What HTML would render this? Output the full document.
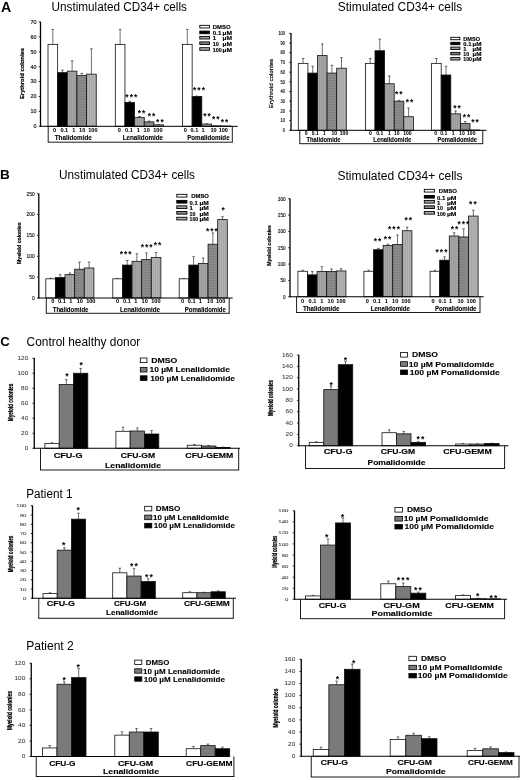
<!DOCTYPE html><html><head><meta charset="utf-8"><title>Figure</title><style>html,body{margin:0;padding:0;background:#fff;}svg{display:block;filter:blur(0.3px);}text{font-family:"Liberation Sans",sans-serif;}</style></head><body>
<svg width="520" height="780" viewBox="0 0 520 780">
<defs><pattern id="g1" width="2" height="2" patternUnits="userSpaceOnUse"><rect width="2" height="2" fill="#9a9a9a"/><rect width="1" height="2" fill="#a6a6a6"/></pattern><pattern id="g10" width="2" height="1.6" patternUnits="userSpaceOnUse"><rect width="2" height="1.6" fill="#8e8e8e"/><rect width="2" height="0.6" fill="#7a7a7a"/></pattern><pattern id="g100" width="2" height="2" patternUnits="userSpaceOnUse"><rect width="2" height="2" fill="#a8a8a8"/><rect width="1" height="2" fill="#b2b2b2"/></pattern></defs>
<rect width="520" height="780" fill="#fff"/>
<text x="0.9" y="11.9" font-size="14.2" font-weight="bold">A</text>
<text x="51.5" y="10.9" font-size="12.3" textLength="135.4" lengthAdjust="spacingAndGlyphs">Unstimulated CD34+ cells</text>
<text x="337.8" y="10.9" font-size="12.3" textLength="124.4" lengthAdjust="spacingAndGlyphs">Stimulated CD34+ cells</text>
<text x="-0.1" y="179.4" font-size="13.6" font-weight="bold">B</text>
<text x="59" y="179.3" font-size="12.3" textLength="136" lengthAdjust="spacingAndGlyphs">Unstimulated CD34+ cells</text>
<text x="337.5" y="180" font-size="12.3" textLength="125" lengthAdjust="spacingAndGlyphs">Stimulated CD34+ cells</text>
<text x="0.2" y="345.5" font-size="13.2" font-weight="bold">C</text>
<text x="26.6" y="345.5" font-size="12.3" textLength="113.6" lengthAdjust="spacingAndGlyphs">Control healthy donor</text>
<text x="26.25" y="497.6" font-size="12.3" textLength="46.25" lengthAdjust="spacingAndGlyphs">Patient 1</text>
<text x="26.25" y="649.8" font-size="12.3" textLength="47.5" lengthAdjust="spacingAndGlyphs">Patient 2</text>
<line x1="52.83" y1="44.35" x2="52.83" y2="29.45" stroke="#333" stroke-width="0.7"/>
<line x1="51.53" y1="29.45" x2="54.12" y2="29.45" stroke="#333" stroke-width="0.7"/>
<rect x="48" y="44.35" width="9.65" height="81.95" fill="#fff" stroke="#111" stroke-width="0.8"/>
<line x1="62.48" y1="72.66" x2="62.48" y2="70.13" stroke="#333" stroke-width="0.7"/>
<line x1="61.18" y1="70.13" x2="63.77" y2="70.13" stroke="#333" stroke-width="0.7"/>
<rect x="57.65" y="72.66" width="9.65" height="53.64" fill="#000" stroke="#111" stroke-width="0.8"/>
<line x1="72.12" y1="71.17" x2="72.12" y2="60.74" stroke="#333" stroke-width="0.7"/>
<line x1="70.83" y1="60.74" x2="73.42" y2="60.74" stroke="#333" stroke-width="0.7"/>
<rect x="67.3" y="71.17" width="9.65" height="55.13" fill="url(#g1)" stroke="#111" stroke-width="0.8"/>
<line x1="81.78" y1="75.64" x2="81.78" y2="73.41" stroke="#333" stroke-width="0.7"/>
<line x1="80.48" y1="73.41" x2="83.08" y2="73.41" stroke="#333" stroke-width="0.7"/>
<rect x="76.95" y="75.64" width="9.65" height="50.66" fill="url(#g10)" stroke="#111" stroke-width="0.8"/>
<line x1="91.42" y1="74.15" x2="91.42" y2="48.82" stroke="#333" stroke-width="0.7"/>
<line x1="90.12" y1="48.82" x2="92.72" y2="48.82" stroke="#333" stroke-width="0.7"/>
<rect x="86.6" y="74.15" width="9.65" height="52.15" fill="url(#g100)" stroke="#111" stroke-width="0.8"/>
<line x1="120.12" y1="44.35" x2="120.12" y2="29.45" stroke="#333" stroke-width="0.7"/>
<line x1="118.83" y1="29.45" x2="121.42" y2="29.45" stroke="#333" stroke-width="0.7"/>
<rect x="115.3" y="44.35" width="9.65" height="81.95" fill="#fff" stroke="#111" stroke-width="0.8"/>
<line x1="129.78" y1="102.46" x2="129.78" y2="101.42" stroke="#333" stroke-width="0.7"/>
<line x1="128.47" y1="101.42" x2="131.08" y2="101.42" stroke="#333" stroke-width="0.7"/>
<rect x="124.95" y="102.46" width="9.65" height="23.84" fill="#000" stroke="#111" stroke-width="0.8"/>
<line x1="139.42" y1="117.36" x2="139.42" y2="116.47" stroke="#333" stroke-width="0.7"/>
<line x1="138.12" y1="116.47" x2="140.72" y2="116.47" stroke="#333" stroke-width="0.7"/>
<rect x="134.6" y="117.36" width="9.65" height="8.94" fill="url(#g1)" stroke="#111" stroke-width="0.8"/>
<line x1="149.07" y1="121.83" x2="149.07" y2="121.08" stroke="#333" stroke-width="0.7"/>
<line x1="147.77" y1="121.08" x2="150.38" y2="121.08" stroke="#333" stroke-width="0.7"/>
<rect x="144.25" y="121.83" width="9.65" height="4.47" fill="url(#g10)" stroke="#111" stroke-width="0.8"/>
<line x1="158.72" y1="124.81" x2="158.72" y2="124.51" stroke="#333" stroke-width="0.7"/>
<line x1="157.42" y1="124.51" x2="160.03" y2="124.51" stroke="#333" stroke-width="0.7"/>
<rect x="153.9" y="124.81" width="9.65" height="1.49" fill="url(#g100)" stroke="#111" stroke-width="0.8"/>
<line x1="187.32" y1="44.35" x2="187.32" y2="29.45" stroke="#333" stroke-width="0.7"/>
<line x1="186.02" y1="29.45" x2="188.62" y2="29.45" stroke="#333" stroke-width="0.7"/>
<rect x="182.5" y="44.35" width="9.65" height="81.95" fill="#fff" stroke="#111" stroke-width="0.8"/>
<line x1="196.97" y1="96.5" x2="196.97" y2="96.05" stroke="#333" stroke-width="0.7"/>
<line x1="195.67" y1="96.05" x2="198.28" y2="96.05" stroke="#333" stroke-width="0.7"/>
<rect x="192.15" y="96.5" width="9.65" height="29.8" fill="#000" stroke="#111" stroke-width="0.8"/>
<line x1="206.62" y1="124.06" x2="206.62" y2="123.77" stroke="#333" stroke-width="0.7"/>
<line x1="205.32" y1="123.77" x2="207.93" y2="123.77" stroke="#333" stroke-width="0.7"/>
<rect x="201.8" y="124.06" width="9.65" height="2.23" fill="url(#g1)" stroke="#111" stroke-width="0.8"/>
<rect x="211.45" y="125.85" width="9.65" height="0.45" fill="url(#g10)" stroke="#111" stroke-width="0.8"/>
<rect x="221.1" y="126" width="9.65" height="0.3" fill="url(#g100)" stroke="#111" stroke-width="0.8"/>
<line x1="40.5" y1="21.7" x2="40.5" y2="126.7" stroke="#000" stroke-width="1.3"/>
<line x1="40" y1="126.3" x2="237.7" y2="126.3" stroke="#000" stroke-width="1"/>
<line x1="38.7" y1="126.3" x2="40.5" y2="126.3" stroke="#000" stroke-width="0.8"/>
<text x="36.5" y="128.17" font-size="5.2" stroke="#111" stroke-width="0.15" text-anchor="end" textLength="3" lengthAdjust="spacingAndGlyphs" fill="#111">0</text>
<line x1="38.7" y1="111.4" x2="40.5" y2="111.4" stroke="#000" stroke-width="0.8"/>
<text x="36.5" y="113.27" font-size="5.2" stroke="#111" stroke-width="0.15" text-anchor="end" textLength="6" lengthAdjust="spacingAndGlyphs" fill="#111">10</text>
<line x1="38.7" y1="96.5" x2="40.5" y2="96.5" stroke="#000" stroke-width="0.8"/>
<text x="36.5" y="98.37" font-size="5.2" stroke="#111" stroke-width="0.15" text-anchor="end" textLength="6" lengthAdjust="spacingAndGlyphs" fill="#111">20</text>
<line x1="38.7" y1="81.6" x2="40.5" y2="81.6" stroke="#000" stroke-width="0.8"/>
<text x="36.5" y="83.47" font-size="5.2" stroke="#111" stroke-width="0.15" text-anchor="end" textLength="6" lengthAdjust="spacingAndGlyphs" fill="#111">30</text>
<line x1="38.7" y1="66.7" x2="40.5" y2="66.7" stroke="#000" stroke-width="0.8"/>
<text x="36.5" y="68.57" font-size="5.2" stroke="#111" stroke-width="0.15" text-anchor="end" textLength="6" lengthAdjust="spacingAndGlyphs" fill="#111">40</text>
<line x1="38.7" y1="51.8" x2="40.5" y2="51.8" stroke="#000" stroke-width="0.8"/>
<text x="36.5" y="53.67" font-size="5.2" stroke="#111" stroke-width="0.15" text-anchor="end" textLength="6" lengthAdjust="spacingAndGlyphs" fill="#111">50</text>
<line x1="38.7" y1="36.9" x2="40.5" y2="36.9" stroke="#000" stroke-width="0.8"/>
<text x="36.5" y="38.77" font-size="5.2" stroke="#111" stroke-width="0.15" text-anchor="end" textLength="6" lengthAdjust="spacingAndGlyphs" fill="#111">60</text>
<line x1="38.7" y1="22" x2="40.5" y2="22" stroke="#000" stroke-width="0.8"/>
<text x="36.5" y="23.87" font-size="5.2" stroke="#111" stroke-width="0.15" text-anchor="end" textLength="6" lengthAdjust="spacingAndGlyphs" fill="#111">70</text>
<text x="24" y="73.5" font-size="5.8" stroke="#000" stroke-width="0.2" font-weight="bold" text-anchor="middle" textLength="51" lengthAdjust="spacingAndGlyphs" transform="rotate(-90 24 73.5)">Erythroid colonies</text>
<line x1="48.2" y1="126.3" x2="48.2" y2="142.2" stroke="#000" stroke-width="0.9"/>
<line x1="47.8" y1="142.2" x2="232.7" y2="142.2" stroke="#000" stroke-width="0.9"/>
<line x1="232.3" y1="126.3" x2="232.3" y2="142.2" stroke="#000" stroke-width="0.9"/>
<text x="54.5" y="131.9" font-size="5.6" stroke="#000" stroke-width="0.05" font-weight="bold" text-anchor="middle">0</text>
<text x="64.3" y="131.9" font-size="5.6" stroke="#000" stroke-width="0.05" font-weight="bold" text-anchor="middle">0.1</text>
<text x="73.8" y="131.9" font-size="5.6" stroke="#000" stroke-width="0.05" font-weight="bold" text-anchor="middle">1</text>
<text x="82.2" y="131.9" font-size="5.6" stroke="#000" stroke-width="0.05" font-weight="bold" text-anchor="middle">10</text>
<text x="92.9" y="131.9" font-size="5.6" stroke="#000" stroke-width="0.05" font-weight="bold" text-anchor="middle">100</text>
<text x="119.2" y="131.9" font-size="5.6" stroke="#000" stroke-width="0.05" font-weight="bold" text-anchor="middle">0</text>
<text x="129" y="131.9" font-size="5.6" stroke="#000" stroke-width="0.05" font-weight="bold" text-anchor="middle">0.1</text>
<text x="138.3" y="131.9" font-size="5.6" stroke="#000" stroke-width="0.05" font-weight="bold" text-anchor="middle">1</text>
<text x="146.7" y="131.9" font-size="5.6" stroke="#000" stroke-width="0.05" font-weight="bold" text-anchor="middle">10</text>
<text x="157.9" y="131.9" font-size="5.6" stroke="#000" stroke-width="0.05" font-weight="bold" text-anchor="middle">100</text>
<text x="185.2" y="131.9" font-size="5.6" stroke="#000" stroke-width="0.05" font-weight="bold" text-anchor="middle">0</text>
<text x="194.4" y="131.9" font-size="5.6" stroke="#000" stroke-width="0.05" font-weight="bold" text-anchor="middle">0.1</text>
<text x="203" y="131.9" font-size="5.6" stroke="#000" stroke-width="0.05" font-weight="bold" text-anchor="middle">1</text>
<text x="213.5" y="131.9" font-size="5.6" stroke="#000" stroke-width="0.05" font-weight="bold" text-anchor="middle">10</text>
<text x="223.3" y="131.9" font-size="5.6" stroke="#000" stroke-width="0.05" font-weight="bold" text-anchor="middle">100</text>
<text x="73.25" y="139.9" font-size="7" stroke="#000" stroke-width="0.12" font-weight="bold" text-anchor="middle" textLength="36.9" lengthAdjust="spacingAndGlyphs">Thalidomide</text>
<text x="142.9" y="139.9" font-size="7" stroke="#000" stroke-width="0.12" font-weight="bold" text-anchor="middle" textLength="40.4" lengthAdjust="spacingAndGlyphs">Lenalidomide</text>
<text x="208.4" y="139.9" font-size="7" stroke="#000" stroke-width="0.12" font-weight="bold" text-anchor="middle" textLength="42.4" lengthAdjust="spacingAndGlyphs">Pomalidomide</text>
<text x="127" y="100.2" font-size="8.4" font-weight="bold" text-anchor="middle">*</text>
<text x="131.3" y="100.2" font-size="8.4" font-weight="bold" text-anchor="middle">*</text>
<text x="135.6" y="100.2" font-size="8.4" font-weight="bold" text-anchor="middle">*</text>
<text x="139.45" y="116" font-size="8.4" font-weight="bold" text-anchor="middle">*</text>
<text x="143.75" y="116" font-size="8.4" font-weight="bold" text-anchor="middle">*</text>
<text x="149.35" y="119.4" font-size="8.4" font-weight="bold" text-anchor="middle">*</text>
<text x="153.65" y="119.4" font-size="8.4" font-weight="bold" text-anchor="middle">*</text>
<text x="157.75" y="125" font-size="8.4" font-weight="bold" text-anchor="middle">*</text>
<text x="162.05" y="125" font-size="8.4" font-weight="bold" text-anchor="middle">*</text>
<text x="194.7" y="93.45" font-size="8.4" font-weight="bold" text-anchor="middle">*</text>
<text x="199" y="93.45" font-size="8.4" font-weight="bold" text-anchor="middle">*</text>
<text x="203.3" y="93.45" font-size="8.4" font-weight="bold" text-anchor="middle">*</text>
<text x="204.85" y="119.2" font-size="8.4" font-weight="bold" text-anchor="middle">*</text>
<text x="209.15" y="119.2" font-size="8.4" font-weight="bold" text-anchor="middle">*</text>
<text x="213.6" y="121.7" font-size="8.4" font-weight="bold" text-anchor="middle">*</text>
<text x="217.9" y="121.7" font-size="8.4" font-weight="bold" text-anchor="middle">*</text>
<text x="222.45" y="124.95" font-size="8.4" font-weight="bold" text-anchor="middle">*</text>
<text x="226.75" y="124.95" font-size="8.4" font-weight="bold" text-anchor="middle">*</text>
<rect x="199.8" y="25.35" width="9.6" height="2.6" fill="#fff" stroke="#000" stroke-width="0.9"/>
<text x="212.8" y="29.39" font-size="6.1" stroke="#000" stroke-width="0.15" font-weight="bold" textLength="17.8" lengthAdjust="spacingAndGlyphs">DMSO</text>
<rect x="199.8" y="31.1" width="9.6" height="2.6" fill="#000" stroke="#000" stroke-width="0.9"/>
<text x="212.8" y="35.14" font-size="6.1" stroke="#000" stroke-width="0.15" font-weight="bold" textLength="8.48" lengthAdjust="spacingAndGlyphs">0.1</text>
<text x="222.6" y="35.14" font-size="6.1" stroke="#000" stroke-width="0.15" font-weight="bold" textLength="9.4" lengthAdjust="spacingAndGlyphs">µM</text>
<rect x="199.8" y="36.4" width="9.6" height="2.6" fill="url(#g1)" stroke="#000" stroke-width="0.9"/>
<text x="212.8" y="40.45" font-size="6.1" stroke="#000" stroke-width="0.15" font-weight="bold">1</text>
<text x="222.6" y="40.45" font-size="6.1" stroke="#000" stroke-width="0.15" font-weight="bold" textLength="9.4" lengthAdjust="spacingAndGlyphs">µM</text>
<rect x="199.8" y="41.9" width="9.6" height="2.6" fill="url(#g10)" stroke="#000" stroke-width="0.9"/>
<text x="212.8" y="45.95" font-size="6.1" stroke="#000" stroke-width="0.15" font-weight="bold" textLength="6.1" lengthAdjust="spacingAndGlyphs">10</text>
<text x="222.6" y="45.95" font-size="6.1" stroke="#000" stroke-width="0.15" font-weight="bold" textLength="9.4" lengthAdjust="spacingAndGlyphs">µM</text>
<rect x="199.8" y="47.7" width="9.6" height="2.6" fill="url(#g100)" stroke="#000" stroke-width="0.9"/>
<text x="212.8" y="51.74" font-size="6.1" stroke="#000" stroke-width="0.15" font-weight="bold" textLength="9" lengthAdjust="spacingAndGlyphs">100</text>
<text x="222.6" y="51.74" font-size="6.1" stroke="#000" stroke-width="0.15" font-weight="bold" textLength="9.4" lengthAdjust="spacingAndGlyphs">µM</text>
<line x1="303.1" y1="63.37" x2="303.1" y2="58.52" stroke="#333" stroke-width="0.7"/>
<line x1="301.8" y1="58.52" x2="304.4" y2="58.52" stroke="#333" stroke-width="0.7"/>
<rect x="298.3" y="63.37" width="9.6" height="66.93" fill="#fff" stroke="#111" stroke-width="0.8"/>
<line x1="312.7" y1="73.07" x2="312.7" y2="66.28" stroke="#333" stroke-width="0.7"/>
<line x1="311.4" y1="66.28" x2="314" y2="66.28" stroke="#333" stroke-width="0.7"/>
<rect x="307.9" y="73.07" width="9.6" height="57.23" fill="#000" stroke="#111" stroke-width="0.8"/>
<line x1="322.3" y1="55.61" x2="322.3" y2="43.97" stroke="#333" stroke-width="0.7"/>
<line x1="321" y1="43.97" x2="323.6" y2="43.97" stroke="#333" stroke-width="0.7"/>
<rect x="317.5" y="55.61" width="9.6" height="74.69" fill="url(#g1)" stroke="#111" stroke-width="0.8"/>
<line x1="331.9" y1="73.07" x2="331.9" y2="65.31" stroke="#333" stroke-width="0.7"/>
<line x1="330.6" y1="65.31" x2="333.2" y2="65.31" stroke="#333" stroke-width="0.7"/>
<rect x="327.1" y="73.07" width="9.6" height="57.23" fill="url(#g10)" stroke="#111" stroke-width="0.8"/>
<line x1="341.5" y1="68.22" x2="341.5" y2="57.55" stroke="#333" stroke-width="0.7"/>
<line x1="340.2" y1="57.55" x2="342.8" y2="57.55" stroke="#333" stroke-width="0.7"/>
<rect x="336.7" y="68.22" width="9.6" height="62.08" fill="url(#g100)" stroke="#111" stroke-width="0.8"/>
<line x1="370.2" y1="63.37" x2="370.2" y2="58.52" stroke="#333" stroke-width="0.7"/>
<line x1="368.9" y1="58.52" x2="371.5" y2="58.52" stroke="#333" stroke-width="0.7"/>
<rect x="365.4" y="63.37" width="9.6" height="66.93" fill="#fff" stroke="#111" stroke-width="0.8"/>
<line x1="379.8" y1="50.76" x2="379.8" y2="39.12" stroke="#333" stroke-width="0.7"/>
<line x1="378.5" y1="39.12" x2="381.1" y2="39.12" stroke="#333" stroke-width="0.7"/>
<rect x="375" y="50.76" width="9.6" height="79.54" fill="#000" stroke="#111" stroke-width="0.8"/>
<line x1="389.4" y1="83.74" x2="389.4" y2="75.98" stroke="#333" stroke-width="0.7"/>
<line x1="388.1" y1="75.98" x2="390.7" y2="75.98" stroke="#333" stroke-width="0.7"/>
<rect x="384.6" y="83.74" width="9.6" height="46.56" fill="url(#g1)" stroke="#111" stroke-width="0.8"/>
<line x1="399" y1="101.2" x2="399" y2="100.23" stroke="#333" stroke-width="0.7"/>
<line x1="397.7" y1="100.23" x2="400.3" y2="100.23" stroke="#333" stroke-width="0.7"/>
<rect x="394.2" y="101.2" width="9.6" height="29.1" fill="url(#g10)" stroke="#111" stroke-width="0.8"/>
<line x1="408.6" y1="116.72" x2="408.6" y2="107.99" stroke="#333" stroke-width="0.7"/>
<line x1="407.3" y1="107.99" x2="409.9" y2="107.99" stroke="#333" stroke-width="0.7"/>
<rect x="403.8" y="116.72" width="9.6" height="13.58" fill="url(#g100)" stroke="#111" stroke-width="0.8"/>
<line x1="436.4" y1="63.37" x2="436.4" y2="58.52" stroke="#333" stroke-width="0.7"/>
<line x1="435.1" y1="58.52" x2="437.7" y2="58.52" stroke="#333" stroke-width="0.7"/>
<rect x="431.6" y="63.37" width="9.6" height="66.93" fill="#fff" stroke="#111" stroke-width="0.8"/>
<line x1="446" y1="75.01" x2="446" y2="66.28" stroke="#333" stroke-width="0.7"/>
<line x1="444.7" y1="66.28" x2="447.3" y2="66.28" stroke="#333" stroke-width="0.7"/>
<rect x="441.2" y="75.01" width="9.6" height="55.29" fill="#000" stroke="#111" stroke-width="0.8"/>
<line x1="455.6" y1="113.81" x2="455.6" y2="110.9" stroke="#333" stroke-width="0.7"/>
<line x1="454.3" y1="110.9" x2="456.9" y2="110.9" stroke="#333" stroke-width="0.7"/>
<rect x="450.8" y="113.81" width="9.6" height="16.49" fill="url(#g1)" stroke="#111" stroke-width="0.8"/>
<line x1="465.2" y1="123.51" x2="465.2" y2="121.57" stroke="#333" stroke-width="0.7"/>
<line x1="463.9" y1="121.57" x2="466.5" y2="121.57" stroke="#333" stroke-width="0.7"/>
<rect x="460.4" y="123.51" width="9.6" height="6.79" fill="url(#g10)" stroke="#111" stroke-width="0.8"/>
<rect x="470" y="130.01" width="9.6" height="0.29" fill="url(#g100)" stroke="#111" stroke-width="0.8"/>
<line x1="291" y1="33" x2="291" y2="130.7" stroke="#000" stroke-width="1.3"/>
<line x1="290.5" y1="130.3" x2="486.5" y2="130.3" stroke="#000" stroke-width="1"/>
<line x1="289.2" y1="130.3" x2="291" y2="130.3" stroke="#000" stroke-width="0.8"/>
<text x="285" y="132.03" font-size="4.8" stroke="#111" stroke-width="0.15" text-anchor="end" textLength="2.2" lengthAdjust="spacingAndGlyphs" fill="#111">0</text>
<line x1="289.2" y1="120.6" x2="291" y2="120.6" stroke="#000" stroke-width="0.8"/>
<text x="285" y="122.33" font-size="4.8" stroke="#111" stroke-width="0.15" text-anchor="end" textLength="4.4" lengthAdjust="spacingAndGlyphs" fill="#111">10</text>
<line x1="289.2" y1="110.9" x2="291" y2="110.9" stroke="#000" stroke-width="0.8"/>
<text x="285" y="112.63" font-size="4.8" stroke="#111" stroke-width="0.15" text-anchor="end" textLength="4.4" lengthAdjust="spacingAndGlyphs" fill="#111">20</text>
<line x1="289.2" y1="101.2" x2="291" y2="101.2" stroke="#000" stroke-width="0.8"/>
<text x="285" y="102.93" font-size="4.8" stroke="#111" stroke-width="0.15" text-anchor="end" textLength="4.4" lengthAdjust="spacingAndGlyphs" fill="#111">30</text>
<line x1="289.2" y1="91.5" x2="291" y2="91.5" stroke="#000" stroke-width="0.8"/>
<text x="285" y="93.23" font-size="4.8" stroke="#111" stroke-width="0.15" text-anchor="end" textLength="4.4" lengthAdjust="spacingAndGlyphs" fill="#111">40</text>
<line x1="289.2" y1="81.8" x2="291" y2="81.8" stroke="#000" stroke-width="0.8"/>
<text x="285" y="83.53" font-size="4.8" stroke="#111" stroke-width="0.15" text-anchor="end" textLength="4.4" lengthAdjust="spacingAndGlyphs" fill="#111">50</text>
<line x1="289.2" y1="72.1" x2="291" y2="72.1" stroke="#000" stroke-width="0.8"/>
<text x="285" y="73.83" font-size="4.8" stroke="#111" stroke-width="0.15" text-anchor="end" textLength="4.4" lengthAdjust="spacingAndGlyphs" fill="#111">60</text>
<line x1="289.2" y1="62.4" x2="291" y2="62.4" stroke="#000" stroke-width="0.8"/>
<text x="285" y="64.13" font-size="4.8" stroke="#111" stroke-width="0.15" text-anchor="end" textLength="4.4" lengthAdjust="spacingAndGlyphs" fill="#111">70</text>
<line x1="289.2" y1="52.7" x2="291" y2="52.7" stroke="#000" stroke-width="0.8"/>
<text x="285" y="54.43" font-size="4.8" stroke="#111" stroke-width="0.15" text-anchor="end" textLength="4.4" lengthAdjust="spacingAndGlyphs" fill="#111">80</text>
<line x1="289.2" y1="43" x2="291" y2="43" stroke="#000" stroke-width="0.8"/>
<text x="285" y="44.73" font-size="4.8" stroke="#111" stroke-width="0.15" text-anchor="end" textLength="4.4" lengthAdjust="spacingAndGlyphs" fill="#111">90</text>
<line x1="289.2" y1="33.3" x2="291" y2="33.3" stroke="#000" stroke-width="0.8"/>
<text x="285" y="35.03" font-size="4.8" stroke="#111" stroke-width="0.15" text-anchor="end" textLength="6.6" lengthAdjust="spacingAndGlyphs" fill="#111">100</text>
<text x="272.6" y="83.5" font-size="6.2" stroke="#000" stroke-width="0.2" text-anchor="middle" textLength="49.4" lengthAdjust="spacingAndGlyphs" transform="rotate(-90 272.6 83.5)">Erythroid colonies</text>
<line x1="299.8" y1="130.3" x2="299.8" y2="143.7" stroke="#000" stroke-width="0.9"/>
<line x1="299.4" y1="143.7" x2="483.15" y2="143.7" stroke="#000" stroke-width="0.9"/>
<line x1="482.75" y1="130.3" x2="482.75" y2="143.7" stroke="#000" stroke-width="0.9"/>
<text x="306.2" y="134.8" font-size="5" stroke="#000" stroke-width="0.05" font-weight="bold" text-anchor="middle">0</text>
<text x="315.2" y="134.8" font-size="5" stroke="#000" stroke-width="0.05" font-weight="bold" text-anchor="middle">0.1</text>
<text x="324.4" y="134.8" font-size="5" stroke="#000" stroke-width="0.05" font-weight="bold" text-anchor="middle">1</text>
<text x="334.2" y="134.8" font-size="5" stroke="#000" stroke-width="0.05" font-weight="bold" text-anchor="middle">10</text>
<text x="344" y="134.8" font-size="5" stroke="#000" stroke-width="0.05" font-weight="bold" text-anchor="middle">100</text>
<text x="370.4" y="134.8" font-size="5" stroke="#000" stroke-width="0.05" font-weight="bold" text-anchor="middle">0</text>
<text x="379.8" y="134.8" font-size="5" stroke="#000" stroke-width="0.05" font-weight="bold" text-anchor="middle">0.1</text>
<text x="389.4" y="134.8" font-size="5" stroke="#000" stroke-width="0.05" font-weight="bold" text-anchor="middle">1</text>
<text x="396.7" y="134.8" font-size="5" stroke="#000" stroke-width="0.05" font-weight="bold" text-anchor="middle">10</text>
<text x="407.3" y="134.8" font-size="5" stroke="#000" stroke-width="0.05" font-weight="bold" text-anchor="middle">100</text>
<text x="435.6" y="134.8" font-size="5" stroke="#000" stroke-width="0.05" font-weight="bold" text-anchor="middle">0</text>
<text x="443.75" y="134.8" font-size="5" stroke="#000" stroke-width="0.05" font-weight="bold" text-anchor="middle">0.1</text>
<text x="453.1" y="134.8" font-size="5" stroke="#000" stroke-width="0.05" font-weight="bold" text-anchor="middle">1</text>
<text x="461.9" y="134.8" font-size="5" stroke="#000" stroke-width="0.05" font-weight="bold" text-anchor="middle">10</text>
<text x="471.25" y="134.8" font-size="5" stroke="#000" stroke-width="0.05" font-weight="bold" text-anchor="middle">100</text>
<text x="323.55" y="141.8" font-size="7" stroke="#000" stroke-width="0.12" font-weight="bold" text-anchor="middle" textLength="34.1" lengthAdjust="spacingAndGlyphs">Thalidomide</text>
<text x="392.3" y="141.8" font-size="7" stroke="#000" stroke-width="0.12" font-weight="bold" text-anchor="middle" textLength="38" lengthAdjust="spacingAndGlyphs">Lenalidomide</text>
<text x="457.2" y="141.8" font-size="7" stroke="#000" stroke-width="0.12" font-weight="bold" text-anchor="middle" textLength="39.4" lengthAdjust="spacingAndGlyphs">Pomalidomide</text>
<text x="396.55" y="97.2" font-size="8.4" font-weight="bold" text-anchor="middle">*</text>
<text x="400.85" y="97.2" font-size="8.4" font-weight="bold" text-anchor="middle">*</text>
<text x="407.35" y="104.7" font-size="8.4" font-weight="bold" text-anchor="middle">*</text>
<text x="411.65" y="104.7" font-size="8.4" font-weight="bold" text-anchor="middle">*</text>
<text x="454.95" y="111.2" font-size="8.4" font-weight="bold" text-anchor="middle">*</text>
<text x="459.25" y="111.2" font-size="8.4" font-weight="bold" text-anchor="middle">*</text>
<text x="464.35" y="119.95" font-size="8.4" font-weight="bold" text-anchor="middle">*</text>
<text x="468.65" y="119.95" font-size="8.4" font-weight="bold" text-anchor="middle">*</text>
<text x="472.85" y="125.45" font-size="8.4" font-weight="bold" text-anchor="middle">*</text>
<text x="477.15" y="125.45" font-size="8.4" font-weight="bold" text-anchor="middle">*</text>
<rect x="450.8" y="37.3" width="9.1" height="2.4" fill="#fff" stroke="#000" stroke-width="0.9"/>
<text x="463.3" y="41.16" font-size="5.9" stroke="#000" stroke-width="0.15" font-weight="bold" textLength="16.8" lengthAdjust="spacingAndGlyphs">DMSO</text>
<rect x="450.8" y="42.3" width="9.1" height="2.4" fill="#000" stroke="#000" stroke-width="0.9"/>
<text x="463.3" y="46.16" font-size="5.9" stroke="#000" stroke-width="0.15" font-weight="bold" textLength="8.2" lengthAdjust="spacingAndGlyphs">0.1</text>
<text x="472.6" y="46.16" font-size="5.9" stroke="#000" stroke-width="0.15" font-weight="bold" textLength="8.9" lengthAdjust="spacingAndGlyphs">µM</text>
<rect x="450.8" y="47.1" width="9.1" height="2.4" fill="url(#g1)" stroke="#000" stroke-width="0.9"/>
<text x="463.3" y="50.95" font-size="5.9" stroke="#000" stroke-width="0.15" font-weight="bold">1</text>
<text x="472.6" y="50.95" font-size="5.9" stroke="#000" stroke-width="0.15" font-weight="bold" textLength="8.9" lengthAdjust="spacingAndGlyphs">µM</text>
<rect x="450.8" y="52.4" width="9.1" height="2.4" fill="url(#g10)" stroke="#000" stroke-width="0.9"/>
<text x="463.3" y="56.26" font-size="5.9" stroke="#000" stroke-width="0.15" font-weight="bold" textLength="5.9" lengthAdjust="spacingAndGlyphs">10</text>
<text x="472.6" y="56.26" font-size="5.9" stroke="#000" stroke-width="0.15" font-weight="bold" textLength="8.9" lengthAdjust="spacingAndGlyphs">µM</text>
<rect x="450.8" y="57.6" width="9.1" height="2.4" fill="url(#g100)" stroke="#000" stroke-width="0.9"/>
<text x="463.3" y="61.45" font-size="5.9" stroke="#000" stroke-width="0.15" font-weight="bold" textLength="8.7" lengthAdjust="spacingAndGlyphs">100</text>
<text x="472.6" y="61.45" font-size="5.9" stroke="#000" stroke-width="0.15" font-weight="bold" textLength="8.9" lengthAdjust="spacingAndGlyphs">µM</text>
<line x1="50.61" y1="278.82" x2="50.61" y2="278.19" stroke="#333" stroke-width="0.7"/>
<line x1="49.31" y1="278.19" x2="51.91" y2="278.19" stroke="#333" stroke-width="0.7"/>
<rect x="45.8" y="278.82" width="9.62" height="19.18" fill="#fff" stroke="#111" stroke-width="0.8"/>
<line x1="60.23" y1="277.57" x2="60.23" y2="274.65" stroke="#333" stroke-width="0.7"/>
<line x1="58.93" y1="274.65" x2="61.53" y2="274.65" stroke="#333" stroke-width="0.7"/>
<rect x="55.42" y="277.57" width="9.62" height="20.43" fill="#000" stroke="#111" stroke-width="0.8"/>
<line x1="69.85" y1="274.65" x2="69.85" y2="272.98" stroke="#333" stroke-width="0.7"/>
<line x1="68.55" y1="272.98" x2="71.15" y2="272.98" stroke="#333" stroke-width="0.7"/>
<rect x="65.04" y="274.65" width="9.62" height="23.35" fill="url(#g1)" stroke="#111" stroke-width="0.8"/>
<line x1="79.47" y1="269.23" x2="79.47" y2="262.14" stroke="#333" stroke-width="0.7"/>
<line x1="78.17" y1="262.14" x2="80.77" y2="262.14" stroke="#333" stroke-width="0.7"/>
<rect x="74.66" y="269.23" width="9.62" height="28.77" fill="url(#g10)" stroke="#111" stroke-width="0.8"/>
<line x1="89.09" y1="267.98" x2="89.09" y2="262.14" stroke="#333" stroke-width="0.7"/>
<line x1="87.79" y1="262.14" x2="90.39" y2="262.14" stroke="#333" stroke-width="0.7"/>
<rect x="84.28" y="267.98" width="9.62" height="30.02" fill="url(#g100)" stroke="#111" stroke-width="0.8"/>
<line x1="117.61" y1="278.82" x2="117.61" y2="278.4" stroke="#333" stroke-width="0.7"/>
<line x1="116.31" y1="278.4" x2="118.91" y2="278.4" stroke="#333" stroke-width="0.7"/>
<rect x="112.8" y="278.82" width="9.62" height="19.18" fill="#fff" stroke="#111" stroke-width="0.8"/>
<line x1="127.23" y1="265.06" x2="127.23" y2="260.47" stroke="#333" stroke-width="0.7"/>
<line x1="125.93" y1="260.47" x2="128.53" y2="260.47" stroke="#333" stroke-width="0.7"/>
<rect x="122.42" y="265.06" width="9.62" height="32.94" fill="#000" stroke="#111" stroke-width="0.8"/>
<line x1="136.85" y1="261.3" x2="136.85" y2="253.8" stroke="#333" stroke-width="0.7"/>
<line x1="135.55" y1="253.8" x2="138.15" y2="253.8" stroke="#333" stroke-width="0.7"/>
<rect x="132.04" y="261.3" width="9.62" height="36.7" fill="url(#g1)" stroke="#111" stroke-width="0.8"/>
<line x1="146.47" y1="259.64" x2="146.47" y2="252.96" stroke="#333" stroke-width="0.7"/>
<line x1="145.17" y1="252.96" x2="147.77" y2="252.96" stroke="#333" stroke-width="0.7"/>
<rect x="141.66" y="259.64" width="9.62" height="38.36" fill="url(#g10)" stroke="#111" stroke-width="0.8"/>
<line x1="156.09" y1="257.55" x2="156.09" y2="252.55" stroke="#333" stroke-width="0.7"/>
<line x1="154.79" y1="252.55" x2="157.39" y2="252.55" stroke="#333" stroke-width="0.7"/>
<rect x="151.28" y="257.55" width="9.62" height="40.45" fill="url(#g100)" stroke="#111" stroke-width="0.8"/>
<line x1="184.01" y1="278.82" x2="184.01" y2="278.4" stroke="#333" stroke-width="0.7"/>
<line x1="182.71" y1="278.4" x2="185.31" y2="278.4" stroke="#333" stroke-width="0.7"/>
<rect x="179.2" y="278.82" width="9.62" height="19.18" fill="#fff" stroke="#111" stroke-width="0.8"/>
<line x1="193.63" y1="265.06" x2="193.63" y2="256.72" stroke="#333" stroke-width="0.7"/>
<line x1="192.33" y1="256.72" x2="194.93" y2="256.72" stroke="#333" stroke-width="0.7"/>
<rect x="188.82" y="265.06" width="9.62" height="32.94" fill="#000" stroke="#111" stroke-width="0.8"/>
<line x1="203.25" y1="263.39" x2="203.25" y2="257.97" stroke="#333" stroke-width="0.7"/>
<line x1="201.95" y1="257.97" x2="204.55" y2="257.97" stroke="#333" stroke-width="0.7"/>
<rect x="198.44" y="263.39" width="9.62" height="34.61" fill="url(#g1)" stroke="#111" stroke-width="0.8"/>
<line x1="212.87" y1="244.21" x2="212.87" y2="232.95" stroke="#333" stroke-width="0.7"/>
<line x1="211.57" y1="232.95" x2="214.17" y2="232.95" stroke="#333" stroke-width="0.7"/>
<rect x="208.06" y="244.21" width="9.62" height="53.79" fill="url(#g10)" stroke="#111" stroke-width="0.8"/>
<line x1="222.49" y1="219.6" x2="222.49" y2="216.69" stroke="#333" stroke-width="0.7"/>
<line x1="221.19" y1="216.69" x2="223.79" y2="216.69" stroke="#333" stroke-width="0.7"/>
<rect x="217.68" y="219.6" width="9.62" height="78.4" fill="url(#g100)" stroke="#111" stroke-width="0.8"/>
<line x1="38.8" y1="193.45" x2="38.8" y2="298.4" stroke="#000" stroke-width="1.3"/>
<line x1="38.3" y1="298" x2="232.7" y2="298" stroke="#000" stroke-width="1"/>
<line x1="37" y1="298" x2="38.8" y2="298" stroke="#000" stroke-width="0.8"/>
<text x="34.6" y="299.8" font-size="5" stroke="#111" stroke-width="0.15" text-anchor="end" textLength="2.67" lengthAdjust="spacingAndGlyphs" fill="#111">0</text>
<line x1="37" y1="277.15" x2="38.8" y2="277.15" stroke="#000" stroke-width="0.8"/>
<text x="34.6" y="278.95" font-size="5" stroke="#111" stroke-width="0.15" text-anchor="end" textLength="5.34" lengthAdjust="spacingAndGlyphs" fill="#111">50</text>
<line x1="37" y1="256.3" x2="38.8" y2="256.3" stroke="#000" stroke-width="0.8"/>
<text x="34.6" y="258.1" font-size="5" stroke="#111" stroke-width="0.15" text-anchor="end" textLength="8.01" lengthAdjust="spacingAndGlyphs" fill="#111">100</text>
<line x1="37" y1="235.45" x2="38.8" y2="235.45" stroke="#000" stroke-width="0.8"/>
<text x="34.6" y="237.25" font-size="5" stroke="#111" stroke-width="0.15" text-anchor="end" textLength="8.01" lengthAdjust="spacingAndGlyphs" fill="#111">150</text>
<line x1="37" y1="214.6" x2="38.8" y2="214.6" stroke="#000" stroke-width="0.8"/>
<text x="34.6" y="216.4" font-size="5" stroke="#111" stroke-width="0.15" text-anchor="end" textLength="8.01" lengthAdjust="spacingAndGlyphs" fill="#111">200</text>
<line x1="37" y1="193.75" x2="38.8" y2="193.75" stroke="#000" stroke-width="0.8"/>
<text x="34.6" y="195.55" font-size="5" stroke="#111" stroke-width="0.15" text-anchor="end" textLength="8.01" lengthAdjust="spacingAndGlyphs" fill="#111">250</text>
<text x="21" y="243.2" font-size="5.6" stroke="#000" stroke-width="0.2" font-weight="bold" text-anchor="middle" textLength="41.6" lengthAdjust="spacingAndGlyphs" transform="rotate(-90 21 243.2)">Myeloid colonies</text>
<line x1="46.3" y1="298" x2="46.3" y2="313.3" stroke="#000" stroke-width="0.9"/>
<line x1="45.9" y1="313.3" x2="229.6" y2="313.3" stroke="#000" stroke-width="0.9"/>
<line x1="229.2" y1="298" x2="229.2" y2="313.3" stroke="#000" stroke-width="0.9"/>
<text x="52.7" y="303.4" font-size="5.6" stroke="#000" stroke-width="0.05" font-weight="bold" text-anchor="middle">0</text>
<text x="61.9" y="303.4" font-size="5.6" stroke="#000" stroke-width="0.05" font-weight="bold" text-anchor="middle">0.1</text>
<text x="70.9" y="303.4" font-size="5.6" stroke="#000" stroke-width="0.05" font-weight="bold" text-anchor="middle">1</text>
<text x="79.8" y="303.4" font-size="5.6" stroke="#000" stroke-width="0.05" font-weight="bold" text-anchor="middle">10</text>
<text x="90.8" y="303.4" font-size="5.6" stroke="#000" stroke-width="0.05" font-weight="bold" text-anchor="middle">100</text>
<text x="117.5" y="303.4" font-size="5.6" stroke="#000" stroke-width="0.05" font-weight="bold" text-anchor="middle">0</text>
<text x="127" y="303.4" font-size="5.6" stroke="#000" stroke-width="0.05" font-weight="bold" text-anchor="middle">0.1</text>
<text x="135.9" y="303.4" font-size="5.6" stroke="#000" stroke-width="0.05" font-weight="bold" text-anchor="middle">1</text>
<text x="144.7" y="303.4" font-size="5.6" stroke="#000" stroke-width="0.05" font-weight="bold" text-anchor="middle">10</text>
<text x="155.9" y="303.4" font-size="5.6" stroke="#000" stroke-width="0.05" font-weight="bold" text-anchor="middle">100</text>
<text x="182.5" y="303.4" font-size="5.6" stroke="#000" stroke-width="0.05" font-weight="bold" text-anchor="middle">0</text>
<text x="191.7" y="303.4" font-size="5.6" stroke="#000" stroke-width="0.05" font-weight="bold" text-anchor="middle">0.1</text>
<text x="200.2" y="303.4" font-size="5.6" stroke="#000" stroke-width="0.05" font-weight="bold" text-anchor="middle">1</text>
<text x="210.2" y="303.4" font-size="5.6" stroke="#000" stroke-width="0.05" font-weight="bold" text-anchor="middle">10</text>
<text x="220.6" y="303.4" font-size="5.6" stroke="#000" stroke-width="0.05" font-weight="bold" text-anchor="middle">100</text>
<text x="70.6" y="311.5" font-size="7" stroke="#000" stroke-width="0.12" font-weight="bold" text-anchor="middle" textLength="35.8" lengthAdjust="spacingAndGlyphs">Thalidomide</text>
<text x="140" y="311.5" font-size="7" stroke="#000" stroke-width="0.12" font-weight="bold" text-anchor="middle" textLength="39.8" lengthAdjust="spacingAndGlyphs">Lenalidomide</text>
<text x="205.3" y="311.5" font-size="7" stroke="#000" stroke-width="0.12" font-weight="bold" text-anchor="middle" textLength="41" lengthAdjust="spacingAndGlyphs">Pomalidomide</text>
<text x="121.3" y="257.2" font-size="8.4" font-weight="bold" text-anchor="middle">*</text>
<text x="125.6" y="257.2" font-size="8.4" font-weight="bold" text-anchor="middle">*</text>
<text x="129.9" y="257.2" font-size="8.4" font-weight="bold" text-anchor="middle">*</text>
<text x="142.3" y="250.45" font-size="8.4" font-weight="bold" text-anchor="middle">*</text>
<text x="146.6" y="250.45" font-size="8.4" font-weight="bold" text-anchor="middle">*</text>
<text x="150.9" y="250.45" font-size="8.4" font-weight="bold" text-anchor="middle">*</text>
<text x="155.35" y="248.45" font-size="8.4" font-weight="bold" text-anchor="middle">*</text>
<text x="159.65" y="248.45" font-size="8.4" font-weight="bold" text-anchor="middle">*</text>
<text x="207.6" y="234.2" font-size="8.4" font-weight="bold" text-anchor="middle">*</text>
<text x="211.9" y="234.2" font-size="8.4" font-weight="bold" text-anchor="middle">*</text>
<text x="216.2" y="234.2" font-size="8.4" font-weight="bold" text-anchor="middle">*</text>
<text x="223.25" y="212.95" font-size="8.4" font-weight="bold" text-anchor="middle">*</text>
<rect x="176.8" y="194.35" width="10.1" height="2.7" fill="#fff" stroke="#000" stroke-width="0.9"/>
<text x="191.2" y="198.44" font-size="6.1" stroke="#000" stroke-width="0.15" font-weight="bold" textLength="17.8" lengthAdjust="spacingAndGlyphs">DMSO</text>
<rect x="176.8" y="200.4" width="10.1" height="2.7" fill="#000" stroke="#000" stroke-width="0.9"/>
<text x="189.5" y="204.5" font-size="6.1" stroke="#000" stroke-width="0.15" font-weight="bold" textLength="8.2" lengthAdjust="spacingAndGlyphs">0.1</text>
<text x="199.4" y="204.5" font-size="6.1" stroke="#000" stroke-width="0.15" font-weight="bold" textLength="9.4" lengthAdjust="spacingAndGlyphs">µM</text>
<rect x="176.8" y="205.85" width="10.1" height="2.7" fill="url(#g1)" stroke="#000" stroke-width="0.9"/>
<text x="189.5" y="209.94" font-size="6.1" stroke="#000" stroke-width="0.15" font-weight="bold">1</text>
<text x="199.4" y="209.94" font-size="6.1" stroke="#000" stroke-width="0.15" font-weight="bold" textLength="9.4" lengthAdjust="spacingAndGlyphs">µM</text>
<rect x="176.8" y="211.45" width="10.1" height="2.7" fill="url(#g10)" stroke="#000" stroke-width="0.9"/>
<text x="189.5" y="215.55" font-size="6.1" stroke="#000" stroke-width="0.15" font-weight="bold" textLength="5.9" lengthAdjust="spacingAndGlyphs">10</text>
<text x="199.4" y="215.55" font-size="6.1" stroke="#000" stroke-width="0.15" font-weight="bold" textLength="9.4" lengthAdjust="spacingAndGlyphs">µM</text>
<rect x="176.8" y="217.25" width="10.1" height="2.7" fill="url(#g100)" stroke="#000" stroke-width="0.9"/>
<text x="189.5" y="221.34" font-size="6.1" stroke="#000" stroke-width="0.15" font-weight="bold" textLength="8.7" lengthAdjust="spacingAndGlyphs">100</text>
<text x="199.4" y="221.34" font-size="6.1" stroke="#000" stroke-width="0.15" font-weight="bold" textLength="9.4" lengthAdjust="spacingAndGlyphs">µM</text>
<line x1="302.7" y1="271.27" x2="302.7" y2="270.29" stroke="#333" stroke-width="0.7"/>
<line x1="301.4" y1="270.29" x2="304" y2="270.29" stroke="#333" stroke-width="0.7"/>
<rect x="297.9" y="271.27" width="9.6" height="25.48" fill="#fff" stroke="#111" stroke-width="0.8"/>
<line x1="312.3" y1="274.86" x2="312.3" y2="271.59" stroke="#333" stroke-width="0.7"/>
<line x1="311" y1="271.59" x2="313.6" y2="271.59" stroke="#333" stroke-width="0.7"/>
<rect x="307.5" y="274.86" width="9.6" height="21.89" fill="#000" stroke="#111" stroke-width="0.8"/>
<line x1="321.9" y1="271.59" x2="321.9" y2="266.69" stroke="#333" stroke-width="0.7"/>
<line x1="320.6" y1="266.69" x2="323.2" y2="266.69" stroke="#333" stroke-width="0.7"/>
<rect x="317.1" y="271.59" width="9.6" height="25.16" fill="url(#g1)" stroke="#111" stroke-width="0.8"/>
<line x1="331.5" y1="271.59" x2="331.5" y2="268.98" stroke="#333" stroke-width="0.7"/>
<line x1="330.2" y1="268.98" x2="332.8" y2="268.98" stroke="#333" stroke-width="0.7"/>
<rect x="326.7" y="271.59" width="9.6" height="25.16" fill="url(#g10)" stroke="#111" stroke-width="0.8"/>
<line x1="341.1" y1="270.94" x2="341.1" y2="268.65" stroke="#333" stroke-width="0.7"/>
<line x1="339.8" y1="268.65" x2="342.4" y2="268.65" stroke="#333" stroke-width="0.7"/>
<rect x="336.3" y="270.94" width="9.6" height="25.81" fill="url(#g100)" stroke="#111" stroke-width="0.8"/>
<line x1="368.7" y1="271.27" x2="368.7" y2="270.29" stroke="#333" stroke-width="0.7"/>
<line x1="367.4" y1="270.29" x2="370" y2="270.29" stroke="#333" stroke-width="0.7"/>
<rect x="363.9" y="271.27" width="9.6" height="25.48" fill="#fff" stroke="#111" stroke-width="0.8"/>
<line x1="378.3" y1="249.71" x2="378.3" y2="248.4" stroke="#333" stroke-width="0.7"/>
<line x1="377" y1="248.4" x2="379.6" y2="248.4" stroke="#333" stroke-width="0.7"/>
<rect x="373.5" y="249.71" width="9.6" height="47.04" fill="#000" stroke="#111" stroke-width="0.8"/>
<line x1="387.9" y1="245.46" x2="387.9" y2="244.15" stroke="#333" stroke-width="0.7"/>
<line x1="386.6" y1="244.15" x2="389.2" y2="244.15" stroke="#333" stroke-width="0.7"/>
<rect x="383.1" y="245.46" width="9.6" height="51.29" fill="url(#g1)" stroke="#111" stroke-width="0.8"/>
<line x1="397.5" y1="244.48" x2="397.5" y2="235" stroke="#333" stroke-width="0.7"/>
<line x1="396.2" y1="235" x2="398.8" y2="235" stroke="#333" stroke-width="0.7"/>
<rect x="392.7" y="244.48" width="9.6" height="52.27" fill="url(#g10)" stroke="#111" stroke-width="0.8"/>
<line x1="407.1" y1="230.76" x2="407.1" y2="227.16" stroke="#333" stroke-width="0.7"/>
<line x1="405.8" y1="227.16" x2="408.4" y2="227.16" stroke="#333" stroke-width="0.7"/>
<rect x="402.3" y="230.76" width="9.6" height="65.99" fill="url(#g100)" stroke="#111" stroke-width="0.8"/>
<line x1="434.9" y1="271.27" x2="434.9" y2="270.29" stroke="#333" stroke-width="0.7"/>
<line x1="433.6" y1="270.29" x2="436.2" y2="270.29" stroke="#333" stroke-width="0.7"/>
<rect x="430.1" y="271.27" width="9.6" height="25.48" fill="#fff" stroke="#111" stroke-width="0.8"/>
<line x1="444.5" y1="260.16" x2="444.5" y2="256.89" stroke="#333" stroke-width="0.7"/>
<line x1="443.2" y1="256.89" x2="445.8" y2="256.89" stroke="#333" stroke-width="0.7"/>
<rect x="439.7" y="260.16" width="9.6" height="36.59" fill="#000" stroke="#111" stroke-width="0.8"/>
<line x1="454.1" y1="235.98" x2="454.1" y2="232.72" stroke="#333" stroke-width="0.7"/>
<line x1="452.8" y1="232.72" x2="455.4" y2="232.72" stroke="#333" stroke-width="0.7"/>
<rect x="449.3" y="235.98" width="9.6" height="60.77" fill="url(#g1)" stroke="#111" stroke-width="0.8"/>
<line x1="463.7" y1="236.96" x2="463.7" y2="228.8" stroke="#333" stroke-width="0.7"/>
<line x1="462.4" y1="228.8" x2="465" y2="228.8" stroke="#333" stroke-width="0.7"/>
<rect x="458.9" y="236.96" width="9.6" height="59.79" fill="url(#g10)" stroke="#111" stroke-width="0.8"/>
<line x1="473.3" y1="216.06" x2="473.3" y2="210.17" stroke="#333" stroke-width="0.7"/>
<line x1="472" y1="210.17" x2="474.6" y2="210.17" stroke="#333" stroke-width="0.7"/>
<rect x="468.5" y="216.06" width="9.6" height="80.69" fill="url(#g100)" stroke="#111" stroke-width="0.8"/>
<line x1="290" y1="198.44" x2="290" y2="297.15" stroke="#000" stroke-width="1.3"/>
<line x1="289.5" y1="296.75" x2="483.75" y2="296.75" stroke="#000" stroke-width="1"/>
<line x1="288.2" y1="296.75" x2="290" y2="296.75" stroke="#000" stroke-width="0.8"/>
<text x="285.6" y="298.55" font-size="5" stroke="#111" stroke-width="0.15" text-anchor="end" textLength="2.6" lengthAdjust="spacingAndGlyphs" fill="#111">0</text>
<line x1="288.2" y1="280.42" x2="290" y2="280.42" stroke="#000" stroke-width="0.8"/>
<text x="285.6" y="282.22" font-size="5" stroke="#111" stroke-width="0.15" text-anchor="end" textLength="5.2" lengthAdjust="spacingAndGlyphs" fill="#111">50</text>
<line x1="288.2" y1="264.08" x2="290" y2="264.08" stroke="#000" stroke-width="0.8"/>
<text x="285.6" y="265.88" font-size="5" stroke="#111" stroke-width="0.15" text-anchor="end" textLength="7.8" lengthAdjust="spacingAndGlyphs" fill="#111">100</text>
<line x1="288.2" y1="247.75" x2="290" y2="247.75" stroke="#000" stroke-width="0.8"/>
<text x="285.6" y="249.55" font-size="5" stroke="#111" stroke-width="0.15" text-anchor="end" textLength="7.8" lengthAdjust="spacingAndGlyphs" fill="#111">150</text>
<line x1="288.2" y1="231.41" x2="290" y2="231.41" stroke="#000" stroke-width="0.8"/>
<text x="285.6" y="233.21" font-size="5" stroke="#111" stroke-width="0.15" text-anchor="end" textLength="7.8" lengthAdjust="spacingAndGlyphs" fill="#111">200</text>
<line x1="288.2" y1="215.07" x2="290" y2="215.07" stroke="#000" stroke-width="0.8"/>
<text x="285.6" y="216.88" font-size="5" stroke="#111" stroke-width="0.15" text-anchor="end" textLength="7.8" lengthAdjust="spacingAndGlyphs" fill="#111">250</text>
<line x1="288.2" y1="198.74" x2="290" y2="198.74" stroke="#000" stroke-width="0.8"/>
<text x="285.6" y="200.54" font-size="5" stroke="#111" stroke-width="0.15" text-anchor="end" textLength="7.8" lengthAdjust="spacingAndGlyphs" fill="#111">300</text>
<text x="270.7" y="245.5" font-size="5.6" stroke="#000" stroke-width="0.2" font-weight="bold" text-anchor="middle" textLength="40.4" lengthAdjust="spacingAndGlyphs" transform="rotate(-90 270.7 245.5)">Myeloid colonies</text>
<line x1="296.6" y1="296.75" x2="296.6" y2="312.5" stroke="#000" stroke-width="0.9"/>
<line x1="296.2" y1="312.5" x2="480.4" y2="312.5" stroke="#000" stroke-width="0.9"/>
<line x1="480" y1="296.75" x2="480" y2="312.5" stroke="#000" stroke-width="0.9"/>
<text x="302.6" y="302.5" font-size="5.6" stroke="#000" stroke-width="0.05" font-weight="bold" text-anchor="middle">0</text>
<text x="312.5" y="302.5" font-size="5.6" stroke="#000" stroke-width="0.05" font-weight="bold" text-anchor="middle">0.1</text>
<text x="321.8" y="302.5" font-size="5.6" stroke="#000" stroke-width="0.05" font-weight="bold" text-anchor="middle">1</text>
<text x="330.7" y="302.5" font-size="5.6" stroke="#000" stroke-width="0.05" font-weight="bold" text-anchor="middle">10</text>
<text x="341" y="302.5" font-size="5.6" stroke="#000" stroke-width="0.05" font-weight="bold" text-anchor="middle">100</text>
<text x="367.2" y="302.5" font-size="5.6" stroke="#000" stroke-width="0.05" font-weight="bold" text-anchor="middle">0</text>
<text x="377" y="302.5" font-size="5.6" stroke="#000" stroke-width="0.05" font-weight="bold" text-anchor="middle">0.1</text>
<text x="386.3" y="302.5" font-size="5.6" stroke="#000" stroke-width="0.05" font-weight="bold" text-anchor="middle">1</text>
<text x="395.2" y="302.5" font-size="5.6" stroke="#000" stroke-width="0.05" font-weight="bold" text-anchor="middle">10</text>
<text x="405.9" y="302.5" font-size="5.6" stroke="#000" stroke-width="0.05" font-weight="bold" text-anchor="middle">100</text>
<text x="433.1" y="302.5" font-size="5.6" stroke="#000" stroke-width="0.05" font-weight="bold" text-anchor="middle">0</text>
<text x="442.5" y="302.5" font-size="5.6" stroke="#000" stroke-width="0.05" font-weight="bold" text-anchor="middle">0.1</text>
<text x="450.6" y="302.5" font-size="5.6" stroke="#000" stroke-width="0.05" font-weight="bold" text-anchor="middle">1</text>
<text x="460.6" y="302.5" font-size="5.6" stroke="#000" stroke-width="0.05" font-weight="bold" text-anchor="middle">10</text>
<text x="471.25" y="302.5" font-size="5.6" stroke="#000" stroke-width="0.05" font-weight="bold" text-anchor="middle">100</text>
<text x="321.2" y="310.5" font-size="7" stroke="#000" stroke-width="0.12" font-weight="bold" text-anchor="middle" textLength="36.3" lengthAdjust="spacingAndGlyphs">Thalidomide</text>
<text x="390.3" y="310.5" font-size="7" stroke="#000" stroke-width="0.12" font-weight="bold" text-anchor="middle" textLength="39.2" lengthAdjust="spacingAndGlyphs">Lenalidomide</text>
<text x="455.75" y="310.5" font-size="7" stroke="#000" stroke-width="0.12" font-weight="bold" text-anchor="middle" textLength="41.5" lengthAdjust="spacingAndGlyphs">Pomalidomide</text>
<text x="375.35" y="244.2" font-size="8.4" font-weight="bold" text-anchor="middle">*</text>
<text x="379.65" y="244.2" font-size="8.4" font-weight="bold" text-anchor="middle">*</text>
<text x="385.35" y="242.45" font-size="8.4" font-weight="bold" text-anchor="middle">*</text>
<text x="389.65" y="242.45" font-size="8.4" font-weight="bold" text-anchor="middle">*</text>
<text x="389.7" y="232.45" font-size="8.4" font-weight="bold" text-anchor="middle">*</text>
<text x="394" y="232.45" font-size="8.4" font-weight="bold" text-anchor="middle">*</text>
<text x="398.3" y="232.45" font-size="8.4" font-weight="bold" text-anchor="middle">*</text>
<text x="406.1" y="223.45" font-size="8.4" font-weight="bold" text-anchor="middle">*</text>
<text x="410.4" y="223.45" font-size="8.4" font-weight="bold" text-anchor="middle">*</text>
<text x="437.2" y="254.7" font-size="8.4" font-weight="bold" text-anchor="middle">*</text>
<text x="441.5" y="254.7" font-size="8.4" font-weight="bold" text-anchor="middle">*</text>
<text x="445.8" y="254.7" font-size="8.4" font-weight="bold" text-anchor="middle">*</text>
<text x="452.35" y="232.2" font-size="8.4" font-weight="bold" text-anchor="middle">*</text>
<text x="456.65" y="232.2" font-size="8.4" font-weight="bold" text-anchor="middle">*</text>
<text x="459.1" y="226.7" font-size="8.4" font-weight="bold" text-anchor="middle">*</text>
<text x="463.4" y="226.7" font-size="8.4" font-weight="bold" text-anchor="middle">*</text>
<text x="467.7" y="226.7" font-size="8.4" font-weight="bold" text-anchor="middle">*</text>
<text x="470.75" y="206.7" font-size="8.4" font-weight="bold" text-anchor="middle">*</text>
<text x="475.05" y="206.7" font-size="8.4" font-weight="bold" text-anchor="middle">*</text>
<rect x="424.3" y="189.35" width="10.1" height="2.7" fill="#fff" stroke="#000" stroke-width="0.9"/>
<text x="438.75" y="193.44" font-size="6.1" stroke="#000" stroke-width="0.15" font-weight="bold" textLength="18.25" lengthAdjust="spacingAndGlyphs">DMSO</text>
<rect x="424.3" y="195.4" width="10.1" height="2.7" fill="#000" stroke="#000" stroke-width="0.9"/>
<text x="437" y="199.5" font-size="6.1" stroke="#000" stroke-width="0.15" font-weight="bold" textLength="8.2" lengthAdjust="spacingAndGlyphs">0.1</text>
<text x="446.9" y="199.5" font-size="6.1" stroke="#000" stroke-width="0.15" font-weight="bold" textLength="9.4" lengthAdjust="spacingAndGlyphs">µM</text>
<rect x="424.3" y="200.4" width="10.1" height="2.7" fill="url(#g1)" stroke="#000" stroke-width="0.9"/>
<text x="437" y="204.5" font-size="6.1" stroke="#000" stroke-width="0.15" font-weight="bold">1</text>
<text x="446.9" y="204.5" font-size="6.1" stroke="#000" stroke-width="0.15" font-weight="bold" textLength="9.4" lengthAdjust="spacingAndGlyphs">µM</text>
<rect x="424.3" y="205.85" width="10.1" height="2.7" fill="url(#g10)" stroke="#000" stroke-width="0.9"/>
<text x="437" y="209.94" font-size="6.1" stroke="#000" stroke-width="0.15" font-weight="bold" textLength="5.9" lengthAdjust="spacingAndGlyphs">10</text>
<text x="446.9" y="209.94" font-size="6.1" stroke="#000" stroke-width="0.15" font-weight="bold" textLength="9.4" lengthAdjust="spacingAndGlyphs">µM</text>
<rect x="424.3" y="211.45" width="10.1" height="2.7" fill="url(#g100)" stroke="#000" stroke-width="0.9"/>
<text x="437" y="215.55" font-size="6.1" stroke="#000" stroke-width="0.15" font-weight="bold" textLength="8.7" lengthAdjust="spacingAndGlyphs">100</text>
<text x="446.9" y="215.55" font-size="6.1" stroke="#000" stroke-width="0.15" font-weight="bold" textLength="9.4" lengthAdjust="spacingAndGlyphs">µM</text>
<line x1="52.05" y1="443.52" x2="52.05" y2="442.77" stroke="#333" stroke-width="0.7"/>
<line x1="50.75" y1="442.77" x2="53.35" y2="442.77" stroke="#333" stroke-width="0.7"/>
<rect x="44.9" y="443.52" width="14.3" height="4.73" fill="#fff" stroke="#111" stroke-width="0.8"/>
<line x1="66.35" y1="384.5" x2="66.35" y2="379.62" stroke="#333" stroke-width="0.7"/>
<line x1="65.05" y1="379.62" x2="67.65" y2="379.62" stroke="#333" stroke-width="0.7"/>
<rect x="59.2" y="384.5" width="14.3" height="63.75" fill="#7a7a7a" stroke="#111" stroke-width="0.8"/>
<line x1="80.65" y1="373.25" x2="80.65" y2="368.45" stroke="#333" stroke-width="0.7"/>
<line x1="79.35" y1="368.45" x2="81.95" y2="368.45" stroke="#333" stroke-width="0.7"/>
<rect x="73.5" y="373.25" width="14.3" height="75" fill="#000" stroke="#111" stroke-width="0.8"/>
<line x1="123.05" y1="431.3" x2="123.05" y2="427.25" stroke="#333" stroke-width="0.7"/>
<line x1="121.75" y1="427.25" x2="124.35" y2="427.25" stroke="#333" stroke-width="0.7"/>
<rect x="115.9" y="431.3" width="14.3" height="16.95" fill="#fff" stroke="#111" stroke-width="0.8"/>
<line x1="137.35" y1="431" x2="137.35" y2="428" stroke="#333" stroke-width="0.7"/>
<line x1="136.05" y1="428" x2="138.65" y2="428" stroke="#333" stroke-width="0.7"/>
<rect x="130.2" y="431" width="14.3" height="17.25" fill="#7a7a7a" stroke="#111" stroke-width="0.8"/>
<line x1="151.65" y1="434" x2="151.65" y2="430.48" stroke="#333" stroke-width="0.7"/>
<line x1="150.35" y1="430.48" x2="152.95" y2="430.48" stroke="#333" stroke-width="0.7"/>
<rect x="144.5" y="434" width="14.3" height="14.25" fill="#000" stroke="#111" stroke-width="0.8"/>
<line x1="194.45" y1="445.25" x2="194.45" y2="444.5" stroke="#333" stroke-width="0.7"/>
<line x1="193.15" y1="444.5" x2="195.75" y2="444.5" stroke="#333" stroke-width="0.7"/>
<rect x="187.3" y="445.25" width="14.3" height="3" fill="#fff" stroke="#111" stroke-width="0.8"/>
<line x1="208.75" y1="446" x2="208.75" y2="445.48" stroke="#333" stroke-width="0.7"/>
<line x1="207.45" y1="445.48" x2="210.05" y2="445.48" stroke="#333" stroke-width="0.7"/>
<rect x="201.6" y="446" width="14.3" height="2.25" fill="#7a7a7a" stroke="#111" stroke-width="0.8"/>
<line x1="223.05" y1="447.5" x2="223.05" y2="447.12" stroke="#333" stroke-width="0.7"/>
<line x1="221.75" y1="447.12" x2="224.35" y2="447.12" stroke="#333" stroke-width="0.7"/>
<rect x="215.9" y="447.5" width="14.3" height="0.75" fill="#000" stroke="#111" stroke-width="0.8"/>
<line x1="34.25" y1="357.95" x2="34.25" y2="448.65" stroke="#000" stroke-width="1.3"/>
<line x1="33.75" y1="448.25" x2="240" y2="448.25" stroke="#000" stroke-width="1"/>
<line x1="32.45" y1="448.25" x2="34.25" y2="448.25" stroke="#000" stroke-width="0.8"/>
<text x="28.25" y="449.91" font-size="4.6" stroke="#3a3a3a" stroke-width="0.05" text-anchor="end" textLength="3.6" lengthAdjust="spacingAndGlyphs" fill="#3a3a3a">0</text>
<line x1="32.45" y1="433.25" x2="34.25" y2="433.25" stroke="#000" stroke-width="0.8"/>
<text x="28.25" y="434.91" font-size="4.6" stroke="#3a3a3a" stroke-width="0.05" text-anchor="end" textLength="7.2" lengthAdjust="spacingAndGlyphs" fill="#3a3a3a">20</text>
<line x1="32.45" y1="418.25" x2="34.25" y2="418.25" stroke="#000" stroke-width="0.8"/>
<text x="28.25" y="419.91" font-size="4.6" stroke="#3a3a3a" stroke-width="0.05" text-anchor="end" textLength="7.2" lengthAdjust="spacingAndGlyphs" fill="#3a3a3a">40</text>
<line x1="32.45" y1="403.25" x2="34.25" y2="403.25" stroke="#000" stroke-width="0.8"/>
<text x="28.25" y="404.91" font-size="4.6" stroke="#3a3a3a" stroke-width="0.05" text-anchor="end" textLength="7.2" lengthAdjust="spacingAndGlyphs" fill="#3a3a3a">60</text>
<line x1="32.45" y1="388.25" x2="34.25" y2="388.25" stroke="#000" stroke-width="0.8"/>
<text x="28.25" y="389.91" font-size="4.6" stroke="#3a3a3a" stroke-width="0.05" text-anchor="end" textLength="7.2" lengthAdjust="spacingAndGlyphs" fill="#3a3a3a">80</text>
<line x1="32.45" y1="373.25" x2="34.25" y2="373.25" stroke="#000" stroke-width="0.8"/>
<text x="28.25" y="374.91" font-size="4.6" stroke="#3a3a3a" stroke-width="0.05" text-anchor="end" textLength="10.8" lengthAdjust="spacingAndGlyphs" fill="#3a3a3a">100</text>
<line x1="32.45" y1="358.25" x2="34.25" y2="358.25" stroke="#000" stroke-width="0.8"/>
<text x="28.25" y="359.91" font-size="4.6" stroke="#3a3a3a" stroke-width="0.05" text-anchor="end" textLength="10.8" lengthAdjust="spacingAndGlyphs" fill="#3a3a3a">120</text>
<text x="13.4" y="402.5" font-size="6.6" stroke="#000" stroke-width="0.3" font-weight="bold" text-anchor="middle" textLength="37.5" lengthAdjust="spacingAndGlyphs" transform="rotate(-90 13.4 402.5)">Myeloid colonies</text>
<line x1="40.5" y1="448.25" x2="40.5" y2="470" stroke="#000" stroke-width="0.9"/>
<line x1="40.1" y1="470" x2="239.1" y2="470" stroke="#000" stroke-width="0.9"/>
<line x1="238.7" y1="448.25" x2="238.7" y2="470" stroke="#000" stroke-width="0.9"/>
<text x="68.1" y="458.19" font-size="7.2" stroke="#000" stroke-width="0.12" font-weight="bold" text-anchor="middle" textLength="28.75" lengthAdjust="spacingAndGlyphs">CFU-G</text>
<text x="138" y="458.19" font-size="7.2" stroke="#000" stroke-width="0.12" font-weight="bold" text-anchor="middle" textLength="34.4" lengthAdjust="spacingAndGlyphs">CFU-GM</text>
<text x="209.3" y="458.19" font-size="7.2" stroke="#000" stroke-width="0.12" font-weight="bold" text-anchor="middle" textLength="47.9" lengthAdjust="spacingAndGlyphs">CFU-GEMM</text>
<text x="133" y="467.59" font-size="7.2" stroke="#000" stroke-width="0.12" font-weight="bold" text-anchor="middle" textLength="56" lengthAdjust="spacingAndGlyphs">Lenalidomide</text>
<text x="67" y="378.75" font-size="8.6" font-weight="bold" text-anchor="middle">*</text>
<text x="81.25" y="368" font-size="8.6" font-weight="bold" text-anchor="middle">*</text>
<rect x="140.3" y="358" width="6.7" height="4.6" fill="#fff" stroke="#000" stroke-width="0.8"/>
<text x="151.2" y="363.09" font-size="7.2" stroke="#000" stroke-width="0.1" font-weight="bold" textLength="26.2" lengthAdjust="spacingAndGlyphs">DMSO</text>
<rect x="140.3" y="367.4" width="6.7" height="4.6" fill="#7a7a7a" stroke="#000" stroke-width="0.8"/>
<text x="149.5" y="372.39" font-size="7.2" stroke="#000" stroke-width="0.1" font-weight="bold" textLength="80.5" lengthAdjust="spacingAndGlyphs">10 µM Lenalidomide</text>
<rect x="140.3" y="375.8" width="6.7" height="4.6" fill="#000" stroke="#000" stroke-width="0.8"/>
<text x="150.2" y="380.89" font-size="7.2" stroke="#000" stroke-width="0.1" font-weight="bold" textLength="84.8" lengthAdjust="spacingAndGlyphs">100 µM Lenalidomide</text>
<line x1="316.5" y1="442.35" x2="316.5" y2="441.78" stroke="#333" stroke-width="0.7"/>
<line x1="315.2" y1="441.78" x2="317.8" y2="441.78" stroke="#333" stroke-width="0.7"/>
<rect x="309.25" y="442.35" width="14.5" height="3.4" fill="#fff" stroke="#111" stroke-width="0.8"/>
<line x1="331" y1="389.62" x2="331" y2="386.22" stroke="#333" stroke-width="0.7"/>
<line x1="329.7" y1="386.22" x2="332.3" y2="386.22" stroke="#333" stroke-width="0.7"/>
<rect x="323.75" y="389.62" width="14.5" height="56.13" fill="#7a7a7a" stroke="#111" stroke-width="0.8"/>
<line x1="345.5" y1="364.67" x2="345.5" y2="361.27" stroke="#333" stroke-width="0.7"/>
<line x1="344.2" y1="361.27" x2="346.8" y2="361.27" stroke="#333" stroke-width="0.7"/>
<rect x="338.25" y="364.67" width="14.5" height="81.08" fill="#000" stroke="#111" stroke-width="0.8"/>
<line x1="389.25" y1="432.71" x2="389.25" y2="429.87" stroke="#333" stroke-width="0.7"/>
<line x1="387.95" y1="429.87" x2="390.55" y2="429.87" stroke="#333" stroke-width="0.7"/>
<rect x="382" y="432.71" width="14.5" height="13.04" fill="#fff" stroke="#111" stroke-width="0.8"/>
<line x1="403.75" y1="433.84" x2="403.75" y2="431.57" stroke="#333" stroke-width="0.7"/>
<line x1="402.45" y1="431.57" x2="405.05" y2="431.57" stroke="#333" stroke-width="0.7"/>
<rect x="396.5" y="433.84" width="14.5" height="11.91" fill="#7a7a7a" stroke="#111" stroke-width="0.8"/>
<line x1="418.25" y1="442.35" x2="418.25" y2="441.78" stroke="#333" stroke-width="0.7"/>
<line x1="416.95" y1="441.78" x2="419.55" y2="441.78" stroke="#333" stroke-width="0.7"/>
<rect x="411" y="442.35" width="14.5" height="3.4" fill="#000" stroke="#111" stroke-width="0.8"/>
<line x1="462.85" y1="444.05" x2="462.85" y2="443.48" stroke="#333" stroke-width="0.7"/>
<line x1="461.55" y1="443.48" x2="464.15" y2="443.48" stroke="#333" stroke-width="0.7"/>
<rect x="455.6" y="444.05" width="14.5" height="1.7" fill="#fff" stroke="#111" stroke-width="0.8"/>
<line x1="477.35" y1="444.05" x2="477.35" y2="443.77" stroke="#333" stroke-width="0.7"/>
<line x1="476.05" y1="443.77" x2="478.65" y2="443.77" stroke="#333" stroke-width="0.7"/>
<rect x="470.1" y="444.05" width="14.5" height="1.7" fill="#7a7a7a" stroke="#111" stroke-width="0.8"/>
<line x1="491.85" y1="443.48" x2="491.85" y2="443.2" stroke="#333" stroke-width="0.7"/>
<line x1="490.55" y1="443.2" x2="493.15" y2="443.2" stroke="#333" stroke-width="0.7"/>
<rect x="484.6" y="443.48" width="14.5" height="2.27" fill="#000" stroke="#111" stroke-width="0.8"/>
<line x1="298.75" y1="354.73" x2="298.75" y2="446.15" stroke="#000" stroke-width="1.3"/>
<line x1="298.25" y1="445.75" x2="508.5" y2="445.75" stroke="#000" stroke-width="1"/>
<line x1="296.95" y1="445.75" x2="298.75" y2="445.75" stroke="#000" stroke-width="0.8"/>
<text x="292.75" y="447.41" font-size="4.6" stroke="#3a3a3a" stroke-width="0.05" text-anchor="end" textLength="3.6" lengthAdjust="spacingAndGlyphs" fill="#3a3a3a">0</text>
<line x1="296.95" y1="434.41" x2="298.75" y2="434.41" stroke="#000" stroke-width="0.8"/>
<text x="292.75" y="436.07" font-size="4.6" stroke="#3a3a3a" stroke-width="0.05" text-anchor="end" textLength="7.2" lengthAdjust="spacingAndGlyphs" fill="#3a3a3a">20</text>
<line x1="296.95" y1="423.07" x2="298.75" y2="423.07" stroke="#000" stroke-width="0.8"/>
<text x="292.75" y="424.73" font-size="4.6" stroke="#3a3a3a" stroke-width="0.05" text-anchor="end" textLength="7.2" lengthAdjust="spacingAndGlyphs" fill="#3a3a3a">40</text>
<line x1="296.95" y1="411.73" x2="298.75" y2="411.73" stroke="#000" stroke-width="0.8"/>
<text x="292.75" y="413.39" font-size="4.6" stroke="#3a3a3a" stroke-width="0.05" text-anchor="end" textLength="7.2" lengthAdjust="spacingAndGlyphs" fill="#3a3a3a">60</text>
<line x1="296.95" y1="400.39" x2="298.75" y2="400.39" stroke="#000" stroke-width="0.8"/>
<text x="292.75" y="402.05" font-size="4.6" stroke="#3a3a3a" stroke-width="0.05" text-anchor="end" textLength="7.2" lengthAdjust="spacingAndGlyphs" fill="#3a3a3a">80</text>
<line x1="296.95" y1="389.05" x2="298.75" y2="389.05" stroke="#000" stroke-width="0.8"/>
<text x="292.75" y="390.71" font-size="4.6" stroke="#3a3a3a" stroke-width="0.05" text-anchor="end" textLength="10.8" lengthAdjust="spacingAndGlyphs" fill="#3a3a3a">100</text>
<line x1="296.95" y1="377.71" x2="298.75" y2="377.71" stroke="#000" stroke-width="0.8"/>
<text x="292.75" y="379.37" font-size="4.6" stroke="#3a3a3a" stroke-width="0.05" text-anchor="end" textLength="10.8" lengthAdjust="spacingAndGlyphs" fill="#3a3a3a">120</text>
<line x1="296.95" y1="366.37" x2="298.75" y2="366.37" stroke="#000" stroke-width="0.8"/>
<text x="292.75" y="368.03" font-size="4.6" stroke="#3a3a3a" stroke-width="0.05" text-anchor="end" textLength="10.8" lengthAdjust="spacingAndGlyphs" fill="#3a3a3a">140</text>
<line x1="296.95" y1="355.03" x2="298.75" y2="355.03" stroke="#000" stroke-width="0.8"/>
<text x="292.75" y="356.69" font-size="4.6" stroke="#3a3a3a" stroke-width="0.05" text-anchor="end" textLength="10.8" lengthAdjust="spacingAndGlyphs" fill="#3a3a3a">160</text>
<text x="273.4" y="398" font-size="6.6" stroke="#000" stroke-width="0.3" font-weight="bold" text-anchor="middle" textLength="36" lengthAdjust="spacingAndGlyphs" transform="rotate(-90 273.4 398)">Myeloid colonies</text>
<line x1="305.5" y1="445.75" x2="305.5" y2="468.5" stroke="#000" stroke-width="0.9"/>
<line x1="305.1" y1="468.5" x2="505" y2="468.5" stroke="#000" stroke-width="0.9"/>
<line x1="504.6" y1="445.75" x2="504.6" y2="468.5" stroke="#000" stroke-width="0.9"/>
<text x="338.1" y="453.59" font-size="7.2" stroke="#000" stroke-width="0.12" font-weight="bold" text-anchor="middle" textLength="28.75" lengthAdjust="spacingAndGlyphs">CFU-G</text>
<text x="398" y="453.59" font-size="7.2" stroke="#000" stroke-width="0.12" font-weight="bold" text-anchor="middle" textLength="34.4" lengthAdjust="spacingAndGlyphs">CFU-GM</text>
<text x="467.5" y="453.59" font-size="7.2" stroke="#000" stroke-width="0.12" font-weight="bold" text-anchor="middle" textLength="48.5" lengthAdjust="spacingAndGlyphs">CFU-GEMM</text>
<text x="396.5" y="464.89" font-size="7.2" stroke="#000" stroke-width="0.12" font-weight="bold" text-anchor="middle" textLength="58" lengthAdjust="spacingAndGlyphs">Pomalidomide</text>
<text x="331.25" y="388.25" font-size="8.6" font-weight="bold" text-anchor="middle">*</text>
<text x="345.5" y="362.5" font-size="8.6" font-weight="bold" text-anchor="middle">*</text>
<text x="418.2" y="441.7" font-size="8.6" font-weight="bold" text-anchor="middle">*</text>
<text x="422.8" y="441.7" font-size="8.6" font-weight="bold" text-anchor="middle">*</text>
<rect x="400.6" y="352.5" width="6.9" height="4.6" fill="#fff" stroke="#000" stroke-width="0.8"/>
<text x="412" y="357.09" font-size="7.2" stroke="#000" stroke-width="0.1" font-weight="bold" textLength="26" lengthAdjust="spacingAndGlyphs">DMSO</text>
<rect x="400.6" y="361.7" width="6.9" height="4.6" fill="#7a7a7a" stroke="#000" stroke-width="0.8"/>
<text x="408.75" y="366.59" font-size="7.2" stroke="#000" stroke-width="0.1" font-weight="bold" textLength="85.65" lengthAdjust="spacingAndGlyphs">10 µM Pomalidomide</text>
<rect x="400.6" y="370" width="6.9" height="4.6" fill="#000" stroke="#000" stroke-width="0.8"/>
<text x="409.8" y="375.09" font-size="7.2" stroke="#000" stroke-width="0.1" font-weight="bold" textLength="89.9" lengthAdjust="spacingAndGlyphs">100 µM Pomalidomide</text>
<line x1="50.1" y1="593.62" x2="50.1" y2="592.7" stroke="#333" stroke-width="0.7"/>
<line x1="48.8" y1="592.7" x2="51.4" y2="592.7" stroke="#333" stroke-width="0.7"/>
<rect x="43" y="593.62" width="14.2" height="4.62" fill="#fff" stroke="#111" stroke-width="0.8"/>
<line x1="64.3" y1="550.15" x2="64.3" y2="547.84" stroke="#333" stroke-width="0.7"/>
<line x1="63" y1="547.84" x2="65.6" y2="547.84" stroke="#333" stroke-width="0.7"/>
<rect x="57.2" y="550.15" width="14.2" height="48.1" fill="#7a7a7a" stroke="#111" stroke-width="0.8"/>
<line x1="78.5" y1="519.16" x2="78.5" y2="513.15" stroke="#333" stroke-width="0.7"/>
<line x1="77.2" y1="513.15" x2="79.8" y2="513.15" stroke="#333" stroke-width="0.7"/>
<rect x="71.4" y="519.16" width="14.2" height="79.09" fill="#000" stroke="#111" stroke-width="0.8"/>
<line x1="119.8" y1="572.81" x2="119.8" y2="568.19" stroke="#333" stroke-width="0.7"/>
<line x1="118.5" y1="568.19" x2="121.1" y2="568.19" stroke="#333" stroke-width="0.7"/>
<rect x="112.7" y="572.81" width="14.2" height="25.44" fill="#fff" stroke="#111" stroke-width="0.8"/>
<line x1="134" y1="576.05" x2="134" y2="568.65" stroke="#333" stroke-width="0.7"/>
<line x1="132.7" y1="568.65" x2="135.3" y2="568.65" stroke="#333" stroke-width="0.7"/>
<rect x="126.9" y="576.05" width="14.2" height="22.2" fill="#7a7a7a" stroke="#111" stroke-width="0.8"/>
<line x1="148.2" y1="581.6" x2="148.2" y2="578.83" stroke="#333" stroke-width="0.7"/>
<line x1="146.9" y1="578.83" x2="149.5" y2="578.83" stroke="#333" stroke-width="0.7"/>
<rect x="141.1" y="581.6" width="14.2" height="16.65" fill="#000" stroke="#111" stroke-width="0.8"/>
<line x1="189.8" y1="592.7" x2="189.8" y2="591.77" stroke="#333" stroke-width="0.7"/>
<line x1="188.5" y1="591.77" x2="191.1" y2="591.77" stroke="#333" stroke-width="0.7"/>
<rect x="182.7" y="592.7" width="14.2" height="5.55" fill="#fff" stroke="#111" stroke-width="0.8"/>
<line x1="204" y1="592.7" x2="204" y2="592.24" stroke="#333" stroke-width="0.7"/>
<line x1="202.7" y1="592.24" x2="205.3" y2="592.24" stroke="#333" stroke-width="0.7"/>
<rect x="196.9" y="592.7" width="14.2" height="5.55" fill="#7a7a7a" stroke="#111" stroke-width="0.8"/>
<line x1="218.2" y1="591.77" x2="218.2" y2="590.85" stroke="#333" stroke-width="0.7"/>
<line x1="216.9" y1="590.85" x2="219.5" y2="590.85" stroke="#333" stroke-width="0.7"/>
<rect x="211.1" y="591.77" width="14.2" height="6.48" fill="#000" stroke="#111" stroke-width="0.8"/>
<line x1="32.5" y1="505.45" x2="32.5" y2="598.65" stroke="#000" stroke-width="1.3"/>
<line x1="32" y1="598.25" x2="236" y2="598.25" stroke="#000" stroke-width="1"/>
<line x1="30.7" y1="598.25" x2="32.5" y2="598.25" stroke="#000" stroke-width="0.8"/>
<text x="26.5" y="599.83" font-size="4.4" stroke="#3a3a3a" stroke-width="0.05" text-anchor="end" textLength="3.4" lengthAdjust="spacingAndGlyphs" fill="#3a3a3a">0</text>
<line x1="30.7" y1="589" x2="32.5" y2="589" stroke="#000" stroke-width="0.8"/>
<text x="26.5" y="590.58" font-size="4.4" stroke="#3a3a3a" stroke-width="0.05" text-anchor="end" textLength="6.8" lengthAdjust="spacingAndGlyphs" fill="#3a3a3a">10</text>
<line x1="30.7" y1="579.75" x2="32.5" y2="579.75" stroke="#000" stroke-width="0.8"/>
<text x="26.5" y="581.33" font-size="4.4" stroke="#3a3a3a" stroke-width="0.05" text-anchor="end" textLength="6.8" lengthAdjust="spacingAndGlyphs" fill="#3a3a3a">20</text>
<line x1="30.7" y1="570.5" x2="32.5" y2="570.5" stroke="#000" stroke-width="0.8"/>
<text x="26.5" y="572.08" font-size="4.4" stroke="#3a3a3a" stroke-width="0.05" text-anchor="end" textLength="6.8" lengthAdjust="spacingAndGlyphs" fill="#3a3a3a">30</text>
<line x1="30.7" y1="561.25" x2="32.5" y2="561.25" stroke="#000" stroke-width="0.8"/>
<text x="26.5" y="562.83" font-size="4.4" stroke="#3a3a3a" stroke-width="0.05" text-anchor="end" textLength="6.8" lengthAdjust="spacingAndGlyphs" fill="#3a3a3a">40</text>
<line x1="30.7" y1="552" x2="32.5" y2="552" stroke="#000" stroke-width="0.8"/>
<text x="26.5" y="553.58" font-size="4.4" stroke="#3a3a3a" stroke-width="0.05" text-anchor="end" textLength="6.8" lengthAdjust="spacingAndGlyphs" fill="#3a3a3a">50</text>
<line x1="30.7" y1="542.75" x2="32.5" y2="542.75" stroke="#000" stroke-width="0.8"/>
<text x="26.5" y="544.33" font-size="4.4" stroke="#3a3a3a" stroke-width="0.05" text-anchor="end" textLength="6.8" lengthAdjust="spacingAndGlyphs" fill="#3a3a3a">60</text>
<line x1="30.7" y1="533.5" x2="32.5" y2="533.5" stroke="#000" stroke-width="0.8"/>
<text x="26.5" y="535.08" font-size="4.4" stroke="#3a3a3a" stroke-width="0.05" text-anchor="end" textLength="6.8" lengthAdjust="spacingAndGlyphs" fill="#3a3a3a">70</text>
<line x1="30.7" y1="524.25" x2="32.5" y2="524.25" stroke="#000" stroke-width="0.8"/>
<text x="26.5" y="525.83" font-size="4.4" stroke="#3a3a3a" stroke-width="0.05" text-anchor="end" textLength="6.8" lengthAdjust="spacingAndGlyphs" fill="#3a3a3a">80</text>
<line x1="30.7" y1="515" x2="32.5" y2="515" stroke="#000" stroke-width="0.8"/>
<text x="26.5" y="516.58" font-size="4.4" stroke="#3a3a3a" stroke-width="0.05" text-anchor="end" textLength="6.8" lengthAdjust="spacingAndGlyphs" fill="#3a3a3a">90</text>
<line x1="30.7" y1="505.75" x2="32.5" y2="505.75" stroke="#000" stroke-width="0.8"/>
<text x="26.5" y="507.33" font-size="4.4" stroke="#3a3a3a" stroke-width="0.05" text-anchor="end" textLength="10.2" lengthAdjust="spacingAndGlyphs" fill="#3a3a3a">100</text>
<text x="13.4" y="554" font-size="6.6" stroke="#000" stroke-width="0.3" font-weight="bold" text-anchor="middle" textLength="36.5" lengthAdjust="spacingAndGlyphs" transform="rotate(-90 13.4 554)">Myeloid colonies</text>
<line x1="38.75" y1="598.25" x2="38.75" y2="618.3" stroke="#000" stroke-width="0.9"/>
<line x1="38.35" y1="618.3" x2="233.7" y2="618.3" stroke="#000" stroke-width="0.9"/>
<line x1="233.3" y1="598.25" x2="233.3" y2="618.3" stroke="#000" stroke-width="0.9"/>
<text x="60.9" y="606.19" font-size="7.2" stroke="#000" stroke-width="0.12" font-weight="bold" text-anchor="middle" textLength="28.25" lengthAdjust="spacingAndGlyphs">CFU-G</text>
<text x="130.1" y="606.19" font-size="7.2" stroke="#000" stroke-width="0.12" font-weight="bold" text-anchor="middle" textLength="32.3" lengthAdjust="spacingAndGlyphs">CFU-GM</text>
<text x="206.9" y="606.19" font-size="7.2" stroke="#000" stroke-width="0.12" font-weight="bold" text-anchor="middle" textLength="45.8" lengthAdjust="spacingAndGlyphs">CFU-GEMM</text>
<text x="132" y="614.99" font-size="7.2" stroke="#000" stroke-width="0.12" font-weight="bold" text-anchor="middle" textLength="52" lengthAdjust="spacingAndGlyphs">Lenalidomide</text>
<text x="63.75" y="548" font-size="8.6" font-weight="bold" text-anchor="middle">*</text>
<text x="78.25" y="513" font-size="8.6" font-weight="bold" text-anchor="middle">*</text>
<text x="131.7" y="569.3" font-size="8.6" font-weight="bold" text-anchor="middle">*</text>
<text x="136.3" y="569.3" font-size="8.6" font-weight="bold" text-anchor="middle">*</text>
<text x="146.7" y="579.8" font-size="8.6" font-weight="bold" text-anchor="middle">*</text>
<text x="151.3" y="579.8" font-size="8.6" font-weight="bold" text-anchor="middle">*</text>
<rect x="144.7" y="506.3" width="7.1" height="4.6" fill="#fff" stroke="#000" stroke-width="0.8"/>
<text x="155.75" y="511.09" font-size="7.2" stroke="#000" stroke-width="0.1" font-weight="bold" textLength="24.65" lengthAdjust="spacingAndGlyphs">DMSO</text>
<rect x="144.7" y="515.1" width="7.1" height="4.6" fill="#7a7a7a" stroke="#000" stroke-width="0.8"/>
<text x="153.1" y="520.39" font-size="7.2" stroke="#000" stroke-width="0.1" font-weight="bold" textLength="75.8" lengthAdjust="spacingAndGlyphs">10 µM Lenalidomide</text>
<rect x="144.7" y="523.3" width="7.1" height="4.6" fill="#000" stroke="#000" stroke-width="0.8"/>
<text x="153.7" y="528.39" font-size="7.2" stroke="#000" stroke-width="0.1" font-weight="bold" textLength="81.2" lengthAdjust="spacingAndGlyphs">100 µM Lenalidomide</text>
<line x1="313" y1="595.93" x2="313" y2="595.38" stroke="#333" stroke-width="0.7"/>
<line x1="311.7" y1="595.38" x2="314.3" y2="595.38" stroke="#333" stroke-width="0.7"/>
<rect x="305.5" y="595.93" width="15" height="3.32" fill="#fff" stroke="#111" stroke-width="0.8"/>
<line x1="328" y1="545.06" x2="328" y2="538.97" stroke="#333" stroke-width="0.7"/>
<line x1="326.7" y1="538.97" x2="329.3" y2="538.97" stroke="#333" stroke-width="0.7"/>
<rect x="320.5" y="545.06" width="15" height="54.19" fill="#7a7a7a" stroke="#111" stroke-width="0.8"/>
<line x1="343" y1="522.94" x2="343" y2="517.96" stroke="#333" stroke-width="0.7"/>
<line x1="341.7" y1="517.96" x2="344.3" y2="517.96" stroke="#333" stroke-width="0.7"/>
<rect x="335.5" y="522.94" width="15" height="76.31" fill="#000" stroke="#111" stroke-width="0.8"/>
<line x1="388.3" y1="583.77" x2="388.3" y2="581" stroke="#333" stroke-width="0.7"/>
<line x1="387" y1="581" x2="389.6" y2="581" stroke="#333" stroke-width="0.7"/>
<rect x="380.8" y="583.77" width="15" height="15.48" fill="#fff" stroke="#111" stroke-width="0.8"/>
<line x1="403.3" y1="586.53" x2="403.3" y2="582.94" stroke="#333" stroke-width="0.7"/>
<line x1="402" y1="582.94" x2="404.6" y2="582.94" stroke="#333" stroke-width="0.7"/>
<rect x="395.8" y="586.53" width="15" height="12.72" fill="#7a7a7a" stroke="#111" stroke-width="0.8"/>
<line x1="418.3" y1="593.17" x2="418.3" y2="592.06" stroke="#333" stroke-width="0.7"/>
<line x1="417" y1="592.06" x2="419.6" y2="592.06" stroke="#333" stroke-width="0.7"/>
<rect x="410.8" y="593.17" width="15" height="6.08" fill="#000" stroke="#111" stroke-width="0.8"/>
<line x1="463.1" y1="595.38" x2="463.1" y2="594.83" stroke="#333" stroke-width="0.7"/>
<line x1="461.8" y1="594.83" x2="464.4" y2="594.83" stroke="#333" stroke-width="0.7"/>
<rect x="455.6" y="595.38" width="15" height="3.87" fill="#fff" stroke="#111" stroke-width="0.8"/>
<line x1="478.1" y1="598.7" x2="478.1" y2="598.25" stroke="#333" stroke-width="0.7"/>
<line x1="476.8" y1="598.25" x2="479.4" y2="598.25" stroke="#333" stroke-width="0.7"/>
<rect x="470.6" y="598.7" width="15" height="0.55" fill="#7a7a7a" stroke="#111" stroke-width="0.8"/>
<line x1="493.1" y1="598.92" x2="493.1" y2="598.75" stroke="#333" stroke-width="0.7"/>
<line x1="491.8" y1="598.75" x2="494.4" y2="598.75" stroke="#333" stroke-width="0.7"/>
<rect x="485.6" y="598.92" width="15" height="0.33" fill="#000" stroke="#111" stroke-width="0.8"/>
<line x1="294.5" y1="510.47" x2="294.5" y2="599.65" stroke="#000" stroke-width="1.3"/>
<line x1="294" y1="599.25" x2="507" y2="599.25" stroke="#000" stroke-width="1"/>
<line x1="292.7" y1="599.25" x2="294.5" y2="599.25" stroke="#000" stroke-width="0.8"/>
<text x="288.5" y="600.83" font-size="4.4" stroke="#3a3a3a" stroke-width="0.05" text-anchor="end" textLength="3.4" lengthAdjust="spacingAndGlyphs" fill="#3a3a3a">0</text>
<line x1="292.7" y1="588.19" x2="294.5" y2="588.19" stroke="#000" stroke-width="0.8"/>
<text x="288.5" y="589.77" font-size="4.4" stroke="#3a3a3a" stroke-width="0.05" text-anchor="end" textLength="6.8" lengthAdjust="spacingAndGlyphs" fill="#3a3a3a">20</text>
<line x1="292.7" y1="577.13" x2="294.5" y2="577.13" stroke="#000" stroke-width="0.8"/>
<text x="288.5" y="578.71" font-size="4.4" stroke="#3a3a3a" stroke-width="0.05" text-anchor="end" textLength="6.8" lengthAdjust="spacingAndGlyphs" fill="#3a3a3a">40</text>
<line x1="292.7" y1="566.07" x2="294.5" y2="566.07" stroke="#000" stroke-width="0.8"/>
<text x="288.5" y="567.65" font-size="4.4" stroke="#3a3a3a" stroke-width="0.05" text-anchor="end" textLength="6.8" lengthAdjust="spacingAndGlyphs" fill="#3a3a3a">60</text>
<line x1="292.7" y1="555.01" x2="294.5" y2="555.01" stroke="#000" stroke-width="0.8"/>
<text x="288.5" y="556.59" font-size="4.4" stroke="#3a3a3a" stroke-width="0.05" text-anchor="end" textLength="6.8" lengthAdjust="spacingAndGlyphs" fill="#3a3a3a">80</text>
<line x1="292.7" y1="543.95" x2="294.5" y2="543.95" stroke="#000" stroke-width="0.8"/>
<text x="288.5" y="545.53" font-size="4.4" stroke="#3a3a3a" stroke-width="0.05" text-anchor="end" textLength="10.2" lengthAdjust="spacingAndGlyphs" fill="#3a3a3a">100</text>
<line x1="292.7" y1="532.89" x2="294.5" y2="532.89" stroke="#000" stroke-width="0.8"/>
<text x="288.5" y="534.47" font-size="4.4" stroke="#3a3a3a" stroke-width="0.05" text-anchor="end" textLength="10.2" lengthAdjust="spacingAndGlyphs" fill="#3a3a3a">120</text>
<line x1="292.7" y1="521.83" x2="294.5" y2="521.83" stroke="#000" stroke-width="0.8"/>
<text x="288.5" y="523.41" font-size="4.4" stroke="#3a3a3a" stroke-width="0.05" text-anchor="end" textLength="10.2" lengthAdjust="spacingAndGlyphs" fill="#3a3a3a">140</text>
<line x1="292.7" y1="510.77" x2="294.5" y2="510.77" stroke="#000" stroke-width="0.8"/>
<text x="288.5" y="512.35" font-size="4.4" stroke="#3a3a3a" stroke-width="0.05" text-anchor="end" textLength="10.2" lengthAdjust="spacingAndGlyphs" fill="#3a3a3a">160</text>
<text x="276.8" y="551.8" font-size="6.6" stroke="#000" stroke-width="0.3" font-weight="bold" text-anchor="middle" textLength="32" lengthAdjust="spacingAndGlyphs" transform="rotate(-90 276.8 551.8)">Myeloid colonies</text>
<line x1="300.5" y1="599.25" x2="300.5" y2="618.7" stroke="#000" stroke-width="0.9"/>
<line x1="300.1" y1="618.7" x2="505" y2="618.7" stroke="#000" stroke-width="0.9"/>
<line x1="504.6" y1="599.25" x2="504.6" y2="618.7" stroke="#000" stroke-width="0.9"/>
<text x="332.5" y="608.09" font-size="7.2" stroke="#000" stroke-width="0.12" font-weight="bold" text-anchor="middle" textLength="27.5" lengthAdjust="spacingAndGlyphs">CFU-G</text>
<text x="401.6" y="608.09" font-size="7.2" stroke="#000" stroke-width="0.12" font-weight="bold" text-anchor="middle" textLength="36.3" lengthAdjust="spacingAndGlyphs">CFU-GM</text>
<text x="469.6" y="608.09" font-size="7.2" stroke="#000" stroke-width="0.12" font-weight="bold" text-anchor="middle" textLength="48.5" lengthAdjust="spacingAndGlyphs">CFU-GEMM</text>
<text x="402" y="615.99" font-size="7.2" stroke="#000" stroke-width="0.12" font-weight="bold" text-anchor="middle" textLength="61" lengthAdjust="spacingAndGlyphs">Pomalidomide</text>
<text x="326.75" y="540" font-size="8.6" font-weight="bold" text-anchor="middle">*</text>
<text x="342.5" y="520" font-size="8.6" font-weight="bold" text-anchor="middle">*</text>
<text x="398.4" y="582.5" font-size="8.6" font-weight="bold" text-anchor="middle">*</text>
<text x="403" y="582.5" font-size="8.6" font-weight="bold" text-anchor="middle">*</text>
<text x="407.6" y="582.5" font-size="8.6" font-weight="bold" text-anchor="middle">*</text>
<text x="415.7" y="593.2" font-size="8.6" font-weight="bold" text-anchor="middle">*</text>
<text x="420.3" y="593.2" font-size="8.6" font-weight="bold" text-anchor="middle">*</text>
<text x="477.7" y="598.6" font-size="8.6" font-weight="bold" text-anchor="middle">*</text>
<text x="491.2" y="601.3" font-size="8.6" font-weight="bold" text-anchor="middle">*</text>
<text x="495.8" y="601.3" font-size="8.6" font-weight="bold" text-anchor="middle">*</text>
<rect x="394.9" y="507.5" width="7.5" height="4.6" fill="#fff" stroke="#000" stroke-width="0.8"/>
<text x="406.9" y="512.09" font-size="7.2" stroke="#000" stroke-width="0.1" font-weight="bold" textLength="25.4" lengthAdjust="spacingAndGlyphs">DMSO</text>
<rect x="394.9" y="516.5" width="7.5" height="4.6" fill="#7a7a7a" stroke="#000" stroke-width="0.8"/>
<text x="403.75" y="520.59" font-size="7.2" stroke="#000" stroke-width="0.1" font-weight="bold" textLength="84.65" lengthAdjust="spacingAndGlyphs">10 µM Pomalidomide</text>
<rect x="394.9" y="524.4" width="7.5" height="4.6" fill="#000" stroke="#000" stroke-width="0.8"/>
<text x="404.4" y="528.99" font-size="7.2" stroke="#000" stroke-width="0.1" font-weight="bold" textLength="89.7" lengthAdjust="spacingAndGlyphs">100 µM Pomalidomide</text>
<line x1="49.75" y1="747.95" x2="49.75" y2="745.62" stroke="#333" stroke-width="0.7"/>
<line x1="48.45" y1="745.62" x2="51.05" y2="745.62" stroke="#333" stroke-width="0.7"/>
<rect x="42.5" y="747.95" width="14.5" height="8.55" fill="#fff" stroke="#111" stroke-width="0.8"/>
<line x1="64.25" y1="684.24" x2="64.25" y2="681.91" stroke="#333" stroke-width="0.7"/>
<line x1="62.95" y1="681.91" x2="65.55" y2="681.91" stroke="#333" stroke-width="0.7"/>
<rect x="57" y="684.24" width="14.5" height="72.26" fill="#7a7a7a" stroke="#111" stroke-width="0.8"/>
<line x1="78.75" y1="677.63" x2="78.75" y2="668.7" stroke="#333" stroke-width="0.7"/>
<line x1="77.45" y1="668.7" x2="80.05" y2="668.7" stroke="#333" stroke-width="0.7"/>
<rect x="71.5" y="677.63" width="14.5" height="78.87" fill="#000" stroke="#111" stroke-width="0.8"/>
<line x1="122.05" y1="735.13" x2="122.05" y2="731.79" stroke="#333" stroke-width="0.7"/>
<line x1="120.75" y1="731.79" x2="123.35" y2="731.79" stroke="#333" stroke-width="0.7"/>
<rect x="114.8" y="735.13" width="14.5" height="21.37" fill="#fff" stroke="#111" stroke-width="0.8"/>
<line x1="136.55" y1="732.02" x2="136.55" y2="728.53" stroke="#333" stroke-width="0.7"/>
<line x1="135.25" y1="728.53" x2="137.85" y2="728.53" stroke="#333" stroke-width="0.7"/>
<rect x="129.3" y="732.02" width="14.5" height="24.48" fill="#7a7a7a" stroke="#111" stroke-width="0.8"/>
<line x1="151.05" y1="732.02" x2="151.05" y2="728.53" stroke="#333" stroke-width="0.7"/>
<line x1="149.75" y1="728.53" x2="152.35" y2="728.53" stroke="#333" stroke-width="0.7"/>
<rect x="143.8" y="732.02" width="14.5" height="24.48" fill="#000" stroke="#111" stroke-width="0.8"/>
<line x1="193.45" y1="748.73" x2="193.45" y2="746.4" stroke="#333" stroke-width="0.7"/>
<line x1="192.15" y1="746.4" x2="194.75" y2="746.4" stroke="#333" stroke-width="0.7"/>
<rect x="186.2" y="748.73" width="14.5" height="7.77" fill="#fff" stroke="#111" stroke-width="0.8"/>
<line x1="207.95" y1="745.62" x2="207.95" y2="744.07" stroke="#333" stroke-width="0.7"/>
<line x1="206.65" y1="744.07" x2="209.25" y2="744.07" stroke="#333" stroke-width="0.7"/>
<rect x="200.7" y="745.62" width="14.5" height="10.88" fill="#7a7a7a" stroke="#111" stroke-width="0.8"/>
<line x1="222.45" y1="748.73" x2="222.45" y2="747.18" stroke="#333" stroke-width="0.7"/>
<line x1="221.15" y1="747.18" x2="223.75" y2="747.18" stroke="#333" stroke-width="0.7"/>
<rect x="215.2" y="748.73" width="14.5" height="7.77" fill="#000" stroke="#111" stroke-width="0.8"/>
<line x1="31.25" y1="662.96" x2="31.25" y2="756.9" stroke="#000" stroke-width="1.3"/>
<line x1="30.75" y1="756.5" x2="230" y2="756.5" stroke="#000" stroke-width="1"/>
<line x1="29.45" y1="756.5" x2="31.25" y2="756.5" stroke="#000" stroke-width="0.8"/>
<text x="25.25" y="758.16" font-size="4.6" stroke="#3a3a3a" stroke-width="0.05" text-anchor="end" textLength="3.6" lengthAdjust="spacingAndGlyphs" fill="#3a3a3a">0</text>
<line x1="29.45" y1="740.96" x2="31.25" y2="740.96" stroke="#000" stroke-width="0.8"/>
<text x="25.25" y="742.62" font-size="4.6" stroke="#3a3a3a" stroke-width="0.05" text-anchor="end" textLength="7.2" lengthAdjust="spacingAndGlyphs" fill="#3a3a3a">20</text>
<line x1="29.45" y1="725.42" x2="31.25" y2="725.42" stroke="#000" stroke-width="0.8"/>
<text x="25.25" y="727.08" font-size="4.6" stroke="#3a3a3a" stroke-width="0.05" text-anchor="end" textLength="7.2" lengthAdjust="spacingAndGlyphs" fill="#3a3a3a">40</text>
<line x1="29.45" y1="709.88" x2="31.25" y2="709.88" stroke="#000" stroke-width="0.8"/>
<text x="25.25" y="711.54" font-size="4.6" stroke="#3a3a3a" stroke-width="0.05" text-anchor="end" textLength="7.2" lengthAdjust="spacingAndGlyphs" fill="#3a3a3a">60</text>
<line x1="29.45" y1="694.34" x2="31.25" y2="694.34" stroke="#000" stroke-width="0.8"/>
<text x="25.25" y="696" font-size="4.6" stroke="#3a3a3a" stroke-width="0.05" text-anchor="end" textLength="7.2" lengthAdjust="spacingAndGlyphs" fill="#3a3a3a">80</text>
<line x1="29.45" y1="678.8" x2="31.25" y2="678.8" stroke="#000" stroke-width="0.8"/>
<text x="25.25" y="680.46" font-size="4.6" stroke="#3a3a3a" stroke-width="0.05" text-anchor="end" textLength="10.8" lengthAdjust="spacingAndGlyphs" fill="#3a3a3a">100</text>
<line x1="29.45" y1="663.26" x2="31.25" y2="663.26" stroke="#000" stroke-width="0.8"/>
<text x="25.25" y="664.92" font-size="4.6" stroke="#3a3a3a" stroke-width="0.05" text-anchor="end" textLength="10.8" lengthAdjust="spacingAndGlyphs" fill="#3a3a3a">120</text>
<text x="12.1" y="710.6" font-size="6.6" stroke="#000" stroke-width="0.3" font-weight="bold" text-anchor="middle" textLength="39" lengthAdjust="spacingAndGlyphs" transform="rotate(-90 12.1 710.6)">Myeloid colonies</text>
<line x1="36.25" y1="756.5" x2="36.25" y2="776.5" stroke="#000" stroke-width="0.9"/>
<line x1="35.85" y1="776.5" x2="234.3" y2="776.5" stroke="#000" stroke-width="0.9"/>
<line x1="233.9" y1="756.5" x2="233.9" y2="776.5" stroke="#000" stroke-width="0.9"/>
<text x="62.4" y="765.59" font-size="7.2" stroke="#000" stroke-width="0.12" font-weight="bold" text-anchor="middle" textLength="26.25" lengthAdjust="spacingAndGlyphs">CFU-G</text>
<text x="135.5" y="765.59" font-size="7.2" stroke="#000" stroke-width="0.12" font-weight="bold" text-anchor="middle" textLength="35" lengthAdjust="spacingAndGlyphs">CFU-GM</text>
<text x="209.3" y="765.59" font-size="7.2" stroke="#000" stroke-width="0.12" font-weight="bold" text-anchor="middle" textLength="46.5" lengthAdjust="spacingAndGlyphs">CFU-GEMM</text>
<text x="131" y="773.89" font-size="7.2" stroke="#000" stroke-width="0.12" font-weight="bold" text-anchor="middle" textLength="56" lengthAdjust="spacingAndGlyphs">Lenalidomide</text>
<text x="64.25" y="683.25" font-size="8.6" font-weight="bold" text-anchor="middle">*</text>
<text x="78.25" y="670" font-size="8.6" font-weight="bold" text-anchor="middle">*</text>
<rect x="134.7" y="660.1" width="7.1" height="4.4" fill="#fff" stroke="#000" stroke-width="0.8"/>
<text x="145.75" y="665.09" font-size="7.2" stroke="#000" stroke-width="0.1" font-weight="bold" textLength="23.65" lengthAdjust="spacingAndGlyphs">DMSO</text>
<rect x="134.7" y="668.8" width="7.1" height="4.4" fill="#7a7a7a" stroke="#000" stroke-width="0.8"/>
<text x="143.1" y="674.39" font-size="7.2" stroke="#000" stroke-width="0.1" font-weight="bold" textLength="76.8" lengthAdjust="spacingAndGlyphs">10 µM Lenalidomide</text>
<rect x="134.7" y="676.8" width="7.1" height="4.4" fill="#000" stroke="#000" stroke-width="0.8"/>
<text x="143.7" y="681.79" font-size="7.2" stroke="#000" stroke-width="0.1" font-weight="bold" textLength="81.2" lengthAdjust="spacingAndGlyphs">100 µM Lenalidomide</text>
<line x1="321.05" y1="749.58" x2="321.05" y2="747.16" stroke="#333" stroke-width="0.7"/>
<line x1="319.75" y1="747.16" x2="322.35" y2="747.16" stroke="#333" stroke-width="0.7"/>
<rect x="313.25" y="749.58" width="15.6" height="6.67" fill="#fff" stroke="#111" stroke-width="0.8"/>
<line x1="336.65" y1="684.74" x2="336.65" y2="681.11" stroke="#333" stroke-width="0.7"/>
<line x1="335.35" y1="681.11" x2="337.95" y2="681.11" stroke="#333" stroke-width="0.7"/>
<rect x="328.85" y="684.74" width="15.6" height="71.51" fill="#7a7a7a" stroke="#111" stroke-width="0.8"/>
<line x1="352.25" y1="669.29" x2="352.25" y2="664.14" stroke="#333" stroke-width="0.7"/>
<line x1="350.95" y1="664.14" x2="353.55" y2="664.14" stroke="#333" stroke-width="0.7"/>
<rect x="344.45" y="669.29" width="15.6" height="86.96" fill="#000" stroke="#111" stroke-width="0.8"/>
<line x1="398" y1="739.59" x2="398" y2="736.86" stroke="#333" stroke-width="0.7"/>
<line x1="396.7" y1="736.86" x2="399.3" y2="736.86" stroke="#333" stroke-width="0.7"/>
<rect x="390.2" y="739.59" width="15.6" height="16.66" fill="#fff" stroke="#111" stroke-width="0.8"/>
<line x1="413.6" y1="735.28" x2="413.6" y2="733.22" stroke="#333" stroke-width="0.7"/>
<line x1="412.3" y1="733.22" x2="414.9" y2="733.22" stroke="#333" stroke-width="0.7"/>
<rect x="405.8" y="735.28" width="15.6" height="20.97" fill="#7a7a7a" stroke="#111" stroke-width="0.8"/>
<line x1="429.2" y1="738.68" x2="429.2" y2="736.86" stroke="#333" stroke-width="0.7"/>
<line x1="427.9" y1="736.86" x2="430.5" y2="736.86" stroke="#333" stroke-width="0.7"/>
<rect x="421.4" y="738.68" width="15.6" height="17.57" fill="#000" stroke="#111" stroke-width="0.8"/>
<line x1="475" y1="750.61" x2="475" y2="748.37" stroke="#333" stroke-width="0.7"/>
<line x1="473.7" y1="748.37" x2="476.3" y2="748.37" stroke="#333" stroke-width="0.7"/>
<rect x="467.2" y="750.61" width="15.6" height="5.64" fill="#fff" stroke="#111" stroke-width="0.8"/>
<line x1="490.6" y1="748.8" x2="490.6" y2="746.8" stroke="#333" stroke-width="0.7"/>
<line x1="489.3" y1="746.8" x2="491.9" y2="746.8" stroke="#333" stroke-width="0.7"/>
<rect x="482.8" y="748.8" width="15.6" height="7.45" fill="#7a7a7a" stroke="#111" stroke-width="0.8"/>
<line x1="506.2" y1="752.61" x2="506.2" y2="752.01" stroke="#333" stroke-width="0.7"/>
<line x1="504.9" y1="752.01" x2="507.5" y2="752.01" stroke="#333" stroke-width="0.7"/>
<rect x="498.4" y="752.61" width="15.6" height="3.64" fill="#000" stroke="#111" stroke-width="0.8"/>
<line x1="301.25" y1="658.99" x2="301.25" y2="756.65" stroke="#000" stroke-width="1.3"/>
<line x1="300.75" y1="756.25" x2="520" y2="756.25" stroke="#000" stroke-width="1"/>
<line x1="299.45" y1="756.25" x2="301.25" y2="756.25" stroke="#000" stroke-width="0.8"/>
<text x="295.25" y="757.91" font-size="4.6" stroke="#3a3a3a" stroke-width="0.05" text-anchor="end" textLength="3.6" lengthAdjust="spacingAndGlyphs" fill="#3a3a3a">0</text>
<line x1="299.45" y1="744.13" x2="301.25" y2="744.13" stroke="#000" stroke-width="0.8"/>
<text x="295.25" y="745.79" font-size="4.6" stroke="#3a3a3a" stroke-width="0.05" text-anchor="end" textLength="7.2" lengthAdjust="spacingAndGlyphs" fill="#3a3a3a">20</text>
<line x1="299.45" y1="732.01" x2="301.25" y2="732.01" stroke="#000" stroke-width="0.8"/>
<text x="295.25" y="733.67" font-size="4.6" stroke="#3a3a3a" stroke-width="0.05" text-anchor="end" textLength="7.2" lengthAdjust="spacingAndGlyphs" fill="#3a3a3a">40</text>
<line x1="299.45" y1="719.89" x2="301.25" y2="719.89" stroke="#000" stroke-width="0.8"/>
<text x="295.25" y="721.55" font-size="4.6" stroke="#3a3a3a" stroke-width="0.05" text-anchor="end" textLength="7.2" lengthAdjust="spacingAndGlyphs" fill="#3a3a3a">60</text>
<line x1="299.45" y1="707.77" x2="301.25" y2="707.77" stroke="#000" stroke-width="0.8"/>
<text x="295.25" y="709.43" font-size="4.6" stroke="#3a3a3a" stroke-width="0.05" text-anchor="end" textLength="7.2" lengthAdjust="spacingAndGlyphs" fill="#3a3a3a">80</text>
<line x1="299.45" y1="695.65" x2="301.25" y2="695.65" stroke="#000" stroke-width="0.8"/>
<text x="295.25" y="697.31" font-size="4.6" stroke="#3a3a3a" stroke-width="0.05" text-anchor="end" textLength="10.8" lengthAdjust="spacingAndGlyphs" fill="#3a3a3a">100</text>
<line x1="299.45" y1="683.53" x2="301.25" y2="683.53" stroke="#000" stroke-width="0.8"/>
<text x="295.25" y="685.19" font-size="4.6" stroke="#3a3a3a" stroke-width="0.05" text-anchor="end" textLength="10.8" lengthAdjust="spacingAndGlyphs" fill="#3a3a3a">120</text>
<line x1="299.45" y1="671.41" x2="301.25" y2="671.41" stroke="#000" stroke-width="0.8"/>
<text x="295.25" y="673.07" font-size="4.6" stroke="#3a3a3a" stroke-width="0.05" text-anchor="end" textLength="10.8" lengthAdjust="spacingAndGlyphs" fill="#3a3a3a">140</text>
<line x1="299.45" y1="659.29" x2="301.25" y2="659.29" stroke="#000" stroke-width="0.8"/>
<text x="295.25" y="660.95" font-size="4.6" stroke="#3a3a3a" stroke-width="0.05" text-anchor="end" textLength="10.8" lengthAdjust="spacingAndGlyphs" fill="#3a3a3a">160</text>
<text x="277.6" y="708" font-size="6.6" stroke="#000" stroke-width="0.3" font-weight="bold" text-anchor="middle" textLength="38.75" lengthAdjust="spacingAndGlyphs" transform="rotate(-90 277.6 708)">Myeloid colonies</text>
<line x1="311.25" y1="756.25" x2="311.25" y2="777" stroke="#000" stroke-width="0.9"/>
<line x1="310.85" y1="777" x2="519.4" y2="777" stroke="#000" stroke-width="0.9"/>
<line x1="519" y1="756.25" x2="519" y2="777" stroke="#000" stroke-width="0.9"/>
<text x="334.4" y="765.19" font-size="7.2" stroke="#000" stroke-width="0.12" font-weight="bold" text-anchor="middle" textLength="27.25" lengthAdjust="spacingAndGlyphs">CFU-G</text>
<text x="414.7" y="765.19" font-size="7.2" stroke="#000" stroke-width="0.12" font-weight="bold" text-anchor="middle" textLength="34.6" lengthAdjust="spacingAndGlyphs">CFU-GM</text>
<text x="490.4" y="765.19" font-size="7.2" stroke="#000" stroke-width="0.12" font-weight="bold" text-anchor="middle" textLength="44.8" lengthAdjust="spacingAndGlyphs">CFU-GEMM</text>
<text x="415.75" y="773.89" font-size="7.2" stroke="#000" stroke-width="0.12" font-weight="bold" text-anchor="middle" textLength="59.7" lengthAdjust="spacingAndGlyphs">Pomalidomide</text>
<text x="337.5" y="681.75" font-size="8.6" font-weight="bold" text-anchor="middle">*</text>
<text x="353.75" y="666.25" font-size="8.6" font-weight="bold" text-anchor="middle">*</text>
<rect x="408.9" y="656.3" width="7.5" height="4.4" fill="#fff" stroke="#000" stroke-width="0.8"/>
<text x="420.9" y="661.09" font-size="7.2" stroke="#000" stroke-width="0.1" font-weight="bold" textLength="25.4" lengthAdjust="spacingAndGlyphs">DMSO</text>
<rect x="408.9" y="665.3" width="7.5" height="4.4" fill="#7a7a7a" stroke="#000" stroke-width="0.8"/>
<text x="417.75" y="669.89" font-size="7.2" stroke="#000" stroke-width="0.1" font-weight="bold" textLength="84.65" lengthAdjust="spacingAndGlyphs">10 µM Pomalidomide</text>
<rect x="408.9" y="673.5" width="7.5" height="4.4" fill="#000" stroke="#000" stroke-width="0.8"/>
<text x="417.75" y="678.39" font-size="7.2" stroke="#000" stroke-width="0.1" font-weight="bold" textLength="89.95" lengthAdjust="spacingAndGlyphs">100 µM Pomalidomide</text>
</svg></body></html>
